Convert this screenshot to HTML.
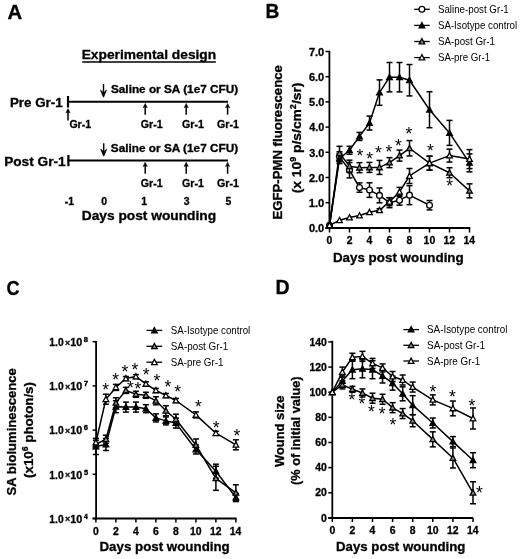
<!DOCTYPE html>
<html><head><meta charset="utf-8"><style>
html,body{margin:0;padding:0;background:#fff;}
svg{display:block;font-family:"Liberation Sans",sans-serif;filter:grayscale(100%);}
</style></head><body>
<svg width="520" height="559" viewBox="0 0 520 559">
<rect width="520" height="559" fill="#fff"/>
<text transform="translate(7.59,18.80) scale(1.0304,1)" font-size="19.7" font-weight="bold" fill="#000" stroke="#000" stroke-width="0.3">A</text>
<text transform="translate(265.51,18.10) scale(0.9736,1)" font-size="19.7" font-weight="bold" fill="#000" stroke="#000" stroke-width="0.3">B</text>
<text transform="translate(6.57,295.20) scale(0.9222,1)" font-size="19.7" font-weight="bold" fill="#000" stroke="#000" stroke-width="0.3">C</text>
<text transform="translate(275.48,294.10) scale(0.9945,1)" font-size="19.7" font-weight="bold" fill="#000" stroke="#000" stroke-width="0.3">D</text>
<text transform="translate(81.67,59.40) scale(1.0583,1)" font-size="13.0" font-weight="bold" fill="#000" stroke="#000" stroke-width="0.3">Experimental design</text>
<line x1="82.30" y1="62.00" x2="215.80" y2="62.00" stroke="#000" stroke-width="1.5" stroke-linecap="butt"/>
<text transform="translate(9.90,106.90) scale(1.0616,1)" font-size="12.6" font-weight="bold" fill="#000" stroke="#000" stroke-width="0.3">Pre Gr-1</text>
<text transform="translate(4.18,165.70) scale(1.0846,1)" font-size="12.6" font-weight="bold" fill="#000" stroke="#000" stroke-width="0.3">Post Gr-1</text>
<line x1="67.70" y1="101.70" x2="228.00" y2="101.70" stroke="#000" stroke-width="2.0" stroke-linecap="butt"/>
<line x1="68.00" y1="96.00" x2="68.00" y2="107.50" stroke="#000" stroke-width="2.2" stroke-linecap="butt"/>
<line x1="67.70" y1="160.50" x2="228.00" y2="160.50" stroke="#000" stroke-width="2.0" stroke-linecap="butt"/>
<line x1="68.40" y1="155.00" x2="68.40" y2="166.20" stroke="#000" stroke-width="2.2" stroke-linecap="butt"/>
<line x1="103.50" y1="84.00" x2="103.50" y2="93.00" stroke="#000" stroke-width="1.4" stroke-linecap="butt"/>
<polygon points="103.50,97.20 100.50,90.20 103.50,92.86 106.50,90.20" fill="#000" stroke="#000" stroke-width="0.8" stroke-linejoin="round"/>
<line x1="103.70" y1="143.30" x2="103.70" y2="152.00" stroke="#000" stroke-width="1.4" stroke-linecap="butt"/>
<polygon points="103.70,156.20 100.70,149.20 103.70,151.86 106.70,149.20" fill="#000" stroke="#000" stroke-width="0.8" stroke-linejoin="round"/>
<text transform="translate(110.95,92.60) scale(1.0912,1)" font-size="10.8" font-weight="bold" fill="#000" stroke="#000" stroke-width="0.3">Saline or SA (1e7 CFU)</text>
<text transform="translate(110.85,151.90) scale(1.0929,1)" font-size="10.8" font-weight="bold" fill="#000" stroke="#000" stroke-width="0.3">Saline or SA (1e7 CFU)</text>
<line x1="68.00" y1="120.40" x2="68.00" y2="111.18" stroke="#000" stroke-width="1.5" stroke-linecap="butt"/>
<polygon points="68.00,108.60 65.90,112.90 68.00,112.04 70.10,112.90" fill="#000" stroke="#000" stroke-width="0.5" stroke-linejoin="round"/>
<line x1="145.20" y1="114.70" x2="145.20" y2="105.98" stroke="#000" stroke-width="1.5" stroke-linecap="butt"/>
<polygon points="145.20,103.40 143.10,107.70 145.20,106.84 147.30,107.70" fill="#000" stroke="#000" stroke-width="0.5" stroke-linejoin="round"/>
<line x1="145.20" y1="173.70" x2="145.20" y2="164.78" stroke="#000" stroke-width="1.5" stroke-linecap="butt"/>
<polygon points="145.20,162.20 143.10,166.50 145.20,165.64 147.30,166.50" fill="#000" stroke="#000" stroke-width="0.5" stroke-linejoin="round"/>
<line x1="186.20" y1="114.70" x2="186.20" y2="105.98" stroke="#000" stroke-width="1.5" stroke-linecap="butt"/>
<polygon points="186.20,103.40 184.10,107.70 186.20,106.84 188.30,107.70" fill="#000" stroke="#000" stroke-width="0.5" stroke-linejoin="round"/>
<line x1="186.20" y1="173.70" x2="186.20" y2="164.78" stroke="#000" stroke-width="1.5" stroke-linecap="butt"/>
<polygon points="186.20,162.20 184.10,166.50 186.20,165.64 188.30,166.50" fill="#000" stroke="#000" stroke-width="0.5" stroke-linejoin="round"/>
<line x1="227.60" y1="114.70" x2="227.60" y2="105.98" stroke="#000" stroke-width="1.5" stroke-linecap="butt"/>
<polygon points="227.60,103.40 225.50,107.70 227.60,106.84 229.70,107.70" fill="#000" stroke="#000" stroke-width="0.5" stroke-linejoin="round"/>
<line x1="227.60" y1="173.70" x2="227.60" y2="164.78" stroke="#000" stroke-width="1.5" stroke-linecap="butt"/>
<polygon points="227.60,162.20 225.50,166.50 227.60,165.64 229.70,166.50" fill="#000" stroke="#000" stroke-width="0.5" stroke-linejoin="round"/>
<text transform="translate(69.38,128.00) scale(0.9783,1)" font-size="10.8" font-weight="bold" fill="#000" stroke="#000" stroke-width="0.3">Gr-1</text>
<text transform="translate(140.77,128.30) scale(0.9877,1)" font-size="10.8" font-weight="bold" fill="#000" stroke="#000" stroke-width="0.3">Gr-1</text>
<text transform="translate(140.77,187.10) scale(0.9877,1)" font-size="10.8" font-weight="bold" fill="#000" stroke="#000" stroke-width="0.3">Gr-1</text>
<text transform="translate(181.97,128.30) scale(0.9877,1)" font-size="10.8" font-weight="bold" fill="#000" stroke="#000" stroke-width="0.3">Gr-1</text>
<text transform="translate(181.97,187.10) scale(0.9877,1)" font-size="10.8" font-weight="bold" fill="#000" stroke="#000" stroke-width="0.3">Gr-1</text>
<text transform="translate(216.97,128.30) scale(0.9877,1)" font-size="10.8" font-weight="bold" fill="#000" stroke="#000" stroke-width="0.3">Gr-1</text>
<text transform="translate(216.97,187.10) scale(0.9877,1)" font-size="10.8" font-weight="bold" fill="#000" stroke="#000" stroke-width="0.3">Gr-1</text>
<text x="64.82" y="204.60" font-size="10.4" font-weight="bold" fill="#000" stroke="#000" stroke-width="0.3">-1</text>
<text x="101.31" y="204.60" font-size="10.4" font-weight="bold" fill="#000" stroke="#000" stroke-width="0.3">0</text>
<text x="141.13" y="204.60" font-size="10.4" font-weight="bold" fill="#000" stroke="#000" stroke-width="0.3">1</text>
<text x="183.78" y="204.60" font-size="10.4" font-weight="bold" fill="#000" stroke="#000" stroke-width="0.3">3</text>
<text x="225.50" y="204.60" font-size="10.4" font-weight="bold" fill="#000" stroke="#000" stroke-width="0.3">5</text>
<text transform="translate(81.77,219.60) scale(1.0911,1)" font-size="12.6" font-weight="bold" fill="#000" stroke="#000" stroke-width="0.3">Days post wounding</text>
<line x1="329.40" y1="50.80" x2="329.40" y2="229.00" stroke="#000" stroke-width="1.8" stroke-linecap="butt"/>
<line x1="325.50" y1="227.90" x2="470.30" y2="227.90" stroke="#000" stroke-width="2.0" stroke-linecap="butt"/>
<line x1="325.50" y1="227.90" x2="329.40" y2="227.90" stroke="#000" stroke-width="1.5" stroke-linecap="butt"/>
<text transform="translate(308.96,232.10) scale(1.0469,1)" font-size="10.5" font-weight="bold" fill="#000" stroke="#000" stroke-width="0.3">0.0</text>
<line x1="325.50" y1="202.70" x2="329.40" y2="202.70" stroke="#000" stroke-width="1.5" stroke-linecap="butt"/>
<text transform="translate(308.70,206.90) scale(1.0652,1)" font-size="10.5" font-weight="bold" fill="#000" stroke="#000" stroke-width="0.3">1.0</text>
<line x1="325.50" y1="177.50" x2="329.40" y2="177.50" stroke="#000" stroke-width="1.5" stroke-linecap="butt"/>
<text transform="translate(309.02,181.70) scale(1.0429,1)" font-size="10.5" font-weight="bold" fill="#000" stroke="#000" stroke-width="0.3">2.0</text>
<line x1="325.50" y1="152.30" x2="329.40" y2="152.30" stroke="#000" stroke-width="1.5" stroke-linecap="butt"/>
<text transform="translate(309.16,156.50) scale(1.0331,1)" font-size="10.5" font-weight="bold" fill="#000" stroke="#000" stroke-width="0.3">3.0</text>
<line x1="325.50" y1="127.10" x2="329.40" y2="127.10" stroke="#000" stroke-width="1.5" stroke-linecap="butt"/>
<text transform="translate(309.24,131.30) scale(1.0273,1)" font-size="10.5" font-weight="bold" fill="#000" stroke="#000" stroke-width="0.3">4.0</text>
<line x1="325.50" y1="101.90" x2="329.40" y2="101.90" stroke="#000" stroke-width="1.5" stroke-linecap="butt"/>
<text transform="translate(309.07,106.10) scale(1.0390,1)" font-size="10.5" font-weight="bold" fill="#000" stroke="#000" stroke-width="0.3">5.0</text>
<line x1="325.50" y1="76.70" x2="329.40" y2="76.70" stroke="#000" stroke-width="1.5" stroke-linecap="butt"/>
<text transform="translate(308.99,80.90) scale(1.0449,1)" font-size="10.5" font-weight="bold" fill="#000" stroke="#000" stroke-width="0.3">6.0</text>
<line x1="325.50" y1="51.50" x2="329.40" y2="51.50" stroke="#000" stroke-width="1.5" stroke-linecap="butt"/>
<text transform="translate(308.93,55.70) scale(1.0489,1)" font-size="10.5" font-weight="bold" fill="#000" stroke="#000" stroke-width="0.3">7.0</text>
<line x1="329.50" y1="227.90" x2="329.50" y2="232.50" stroke="#000" stroke-width="1.5" stroke-linecap="butt"/>
<text x="326.61" y="244.40" font-size="10.4" font-weight="bold" fill="#000" stroke="#000" stroke-width="0.3">0</text>
<line x1="349.50" y1="227.90" x2="349.50" y2="232.50" stroke="#000" stroke-width="1.5" stroke-linecap="butt"/>
<text x="346.63" y="244.40" font-size="10.4" font-weight="bold" fill="#000" stroke="#000" stroke-width="0.3">2</text>
<line x1="369.50" y1="227.90" x2="369.50" y2="232.50" stroke="#000" stroke-width="1.5" stroke-linecap="butt"/>
<text x="366.56" y="244.40" font-size="10.4" font-weight="bold" fill="#000" stroke="#000" stroke-width="0.3">4</text>
<line x1="389.50" y1="227.90" x2="389.50" y2="232.50" stroke="#000" stroke-width="1.5" stroke-linecap="butt"/>
<text x="386.60" y="244.40" font-size="10.4" font-weight="bold" fill="#000" stroke="#000" stroke-width="0.3">6</text>
<line x1="409.50" y1="227.90" x2="409.50" y2="232.50" stroke="#000" stroke-width="1.5" stroke-linecap="butt"/>
<text x="406.60" y="244.40" font-size="10.4" font-weight="bold" fill="#000" stroke="#000" stroke-width="0.3">8</text>
<line x1="429.50" y1="227.90" x2="429.50" y2="232.50" stroke="#000" stroke-width="1.5" stroke-linecap="butt"/>
<text x="423.61" y="244.40" font-size="10.4" font-weight="bold" fill="#000" stroke="#000" stroke-width="0.3">10</text>
<line x1="449.50" y1="227.90" x2="449.50" y2="232.50" stroke="#000" stroke-width="1.5" stroke-linecap="butt"/>
<text x="443.60" y="244.40" font-size="10.4" font-weight="bold" fill="#000" stroke="#000" stroke-width="0.3">12</text>
<line x1="469.50" y1="227.90" x2="469.50" y2="232.50" stroke="#000" stroke-width="1.5" stroke-linecap="butt"/>
<text x="463.43" y="244.40" font-size="10.4" font-weight="bold" fill="#000" stroke="#000" stroke-width="0.3">14</text>
<text transform="translate(332.90,261.70) scale(0.9778,1)" font-size="13.7" font-weight="bold" fill="#000" stroke="#000" stroke-width="0.3">Days post wounding</text>
<text transform="translate(282.30,218.60) rotate(-90) scale(0.9982,1) translate(-0.89,0)" font-size="13.2" font-weight="bold" stroke="#000" stroke-width="0.3"><tspan font-size="13.2" dy="0">EGFP-PMN fluorescence</tspan></text>
<text transform="translate(301.20,192.60) rotate(-90) scale(1.0642,1) translate(-0.65,0)" font-size="13.0" font-weight="bold" stroke="#000" stroke-width="0.3"><tspan font-size="13.0" dy="0">(x 10</tspan><tspan font-size="8.5" dy="-5">9</tspan><tspan font-size="13.0" dy="5"> p/s/cm</tspan><tspan font-size="8.5" dy="-5">2</tspan><tspan font-size="13.0" dy="5">/sr)</tspan></text>
<polyline points="329.50,225.38 339.50,156.84 349.50,170.19 359.50,187.58 369.50,190.10 379.50,195.39 389.50,202.70 399.50,200.18 409.50,195.14 429.50,205.22" fill="none" stroke="#000" stroke-width="1.5" stroke-linejoin="round"/>
<line x1="339.50" y1="151.84" x2="339.50" y2="161.84" stroke="#000" stroke-width="1.5" stroke-linecap="butt"/>
<line x1="336.50" y1="151.84" x2="342.50" y2="151.84" stroke="#000" stroke-width="1.5" stroke-linecap="butt"/>
<line x1="336.50" y1="161.84" x2="342.50" y2="161.84" stroke="#000" stroke-width="1.5" stroke-linecap="butt"/>
<line x1="349.50" y1="162.49" x2="349.50" y2="177.89" stroke="#000" stroke-width="1.5" stroke-linecap="butt"/>
<line x1="346.50" y1="162.49" x2="352.50" y2="162.49" stroke="#000" stroke-width="1.5" stroke-linecap="butt"/>
<line x1="346.50" y1="177.89" x2="352.50" y2="177.89" stroke="#000" stroke-width="1.5" stroke-linecap="butt"/>
<line x1="359.50" y1="182.88" x2="359.50" y2="192.28" stroke="#000" stroke-width="1.5" stroke-linecap="butt"/>
<line x1="356.50" y1="182.88" x2="362.50" y2="182.88" stroke="#000" stroke-width="1.5" stroke-linecap="butt"/>
<line x1="356.50" y1="192.28" x2="362.50" y2="192.28" stroke="#000" stroke-width="1.5" stroke-linecap="butt"/>
<line x1="369.50" y1="182.80" x2="369.50" y2="197.40" stroke="#000" stroke-width="1.5" stroke-linecap="butt"/>
<line x1="366.50" y1="182.80" x2="372.50" y2="182.80" stroke="#000" stroke-width="1.5" stroke-linecap="butt"/>
<line x1="366.50" y1="197.40" x2="372.50" y2="197.40" stroke="#000" stroke-width="1.5" stroke-linecap="butt"/>
<line x1="379.50" y1="187.99" x2="379.50" y2="202.79" stroke="#000" stroke-width="1.5" stroke-linecap="butt"/>
<line x1="376.50" y1="187.99" x2="382.50" y2="187.99" stroke="#000" stroke-width="1.5" stroke-linecap="butt"/>
<line x1="376.50" y1="202.79" x2="382.50" y2="202.79" stroke="#000" stroke-width="1.5" stroke-linecap="butt"/>
<line x1="389.50" y1="197.70" x2="389.50" y2="207.70" stroke="#000" stroke-width="1.5" stroke-linecap="butt"/>
<line x1="386.50" y1="197.70" x2="392.50" y2="197.70" stroke="#000" stroke-width="1.5" stroke-linecap="butt"/>
<line x1="386.50" y1="207.70" x2="392.50" y2="207.70" stroke="#000" stroke-width="1.5" stroke-linecap="butt"/>
<line x1="399.50" y1="195.18" x2="399.50" y2="205.18" stroke="#000" stroke-width="1.5" stroke-linecap="butt"/>
<line x1="396.50" y1="195.18" x2="402.50" y2="195.18" stroke="#000" stroke-width="1.5" stroke-linecap="butt"/>
<line x1="396.50" y1="205.18" x2="402.50" y2="205.18" stroke="#000" stroke-width="1.5" stroke-linecap="butt"/>
<line x1="409.50" y1="185.64" x2="409.50" y2="204.64" stroke="#000" stroke-width="1.5" stroke-linecap="butt"/>
<line x1="406.50" y1="185.64" x2="412.50" y2="185.64" stroke="#000" stroke-width="1.5" stroke-linecap="butt"/>
<line x1="406.50" y1="204.64" x2="412.50" y2="204.64" stroke="#000" stroke-width="1.5" stroke-linecap="butt"/>
<line x1="429.50" y1="200.52" x2="429.50" y2="209.92" stroke="#000" stroke-width="1.5" stroke-linecap="butt"/>
<line x1="426.50" y1="200.52" x2="432.50" y2="200.52" stroke="#000" stroke-width="1.5" stroke-linecap="butt"/>
<line x1="426.50" y1="209.92" x2="432.50" y2="209.92" stroke="#000" stroke-width="1.5" stroke-linecap="butt"/>
<circle cx="329.50" cy="225.38" r="2.90" fill="#fff" stroke="#000" stroke-width="1.30"/>
<circle cx="339.50" cy="156.84" r="2.90" fill="#fff" stroke="#000" stroke-width="1.30"/>
<circle cx="349.50" cy="170.19" r="2.90" fill="#fff" stroke="#000" stroke-width="1.30"/>
<circle cx="359.50" cy="187.58" r="2.90" fill="#fff" stroke="#000" stroke-width="1.30"/>
<circle cx="369.50" cy="190.10" r="2.90" fill="#fff" stroke="#000" stroke-width="1.30"/>
<circle cx="379.50" cy="195.39" r="2.90" fill="#fff" stroke="#000" stroke-width="1.30"/>
<circle cx="389.50" cy="202.70" r="2.90" fill="#fff" stroke="#000" stroke-width="1.30"/>
<circle cx="399.50" cy="200.18" r="2.90" fill="#fff" stroke="#000" stroke-width="1.30"/>
<circle cx="409.50" cy="195.14" r="2.90" fill="#fff" stroke="#000" stroke-width="1.30"/>
<circle cx="429.50" cy="205.22" r="2.90" fill="#fff" stroke="#000" stroke-width="1.30"/>
<polyline points="329.50,225.38 339.50,158.60 349.50,150.28 359.50,136.42 369.50,123.07 379.50,92.58 389.50,77.20 399.50,77.20 409.50,80.23 429.50,109.71 449.50,132.90 469.50,162.88" fill="none" stroke="#000" stroke-width="1.5" stroke-linejoin="round"/>
<line x1="339.50" y1="153.60" x2="339.50" y2="163.60" stroke="#000" stroke-width="1.5" stroke-linecap="butt"/>
<line x1="336.50" y1="153.60" x2="342.50" y2="153.60" stroke="#000" stroke-width="1.5" stroke-linecap="butt"/>
<line x1="336.50" y1="163.60" x2="342.50" y2="163.60" stroke="#000" stroke-width="1.5" stroke-linecap="butt"/>
<line x1="349.50" y1="146.28" x2="349.50" y2="154.28" stroke="#000" stroke-width="1.5" stroke-linecap="butt"/>
<line x1="346.50" y1="146.28" x2="352.50" y2="146.28" stroke="#000" stroke-width="1.5" stroke-linecap="butt"/>
<line x1="346.50" y1="154.28" x2="352.50" y2="154.28" stroke="#000" stroke-width="1.5" stroke-linecap="butt"/>
<line x1="359.50" y1="132.42" x2="359.50" y2="140.42" stroke="#000" stroke-width="1.5" stroke-linecap="butt"/>
<line x1="356.50" y1="132.42" x2="362.50" y2="132.42" stroke="#000" stroke-width="1.5" stroke-linecap="butt"/>
<line x1="356.50" y1="140.42" x2="362.50" y2="140.42" stroke="#000" stroke-width="1.5" stroke-linecap="butt"/>
<line x1="369.50" y1="116.07" x2="369.50" y2="130.07" stroke="#000" stroke-width="1.5" stroke-linecap="butt"/>
<line x1="366.50" y1="116.07" x2="372.50" y2="116.07" stroke="#000" stroke-width="1.5" stroke-linecap="butt"/>
<line x1="366.50" y1="130.07" x2="372.50" y2="130.07" stroke="#000" stroke-width="1.5" stroke-linecap="butt"/>
<line x1="379.50" y1="79.88" x2="379.50" y2="105.28" stroke="#000" stroke-width="1.5" stroke-linecap="butt"/>
<line x1="376.50" y1="79.88" x2="382.50" y2="79.88" stroke="#000" stroke-width="1.5" stroke-linecap="butt"/>
<line x1="376.50" y1="105.28" x2="382.50" y2="105.28" stroke="#000" stroke-width="1.5" stroke-linecap="butt"/>
<line x1="389.50" y1="62.50" x2="389.50" y2="91.90" stroke="#000" stroke-width="1.5" stroke-linecap="butt"/>
<line x1="386.50" y1="62.50" x2="392.50" y2="62.50" stroke="#000" stroke-width="1.5" stroke-linecap="butt"/>
<line x1="386.50" y1="91.90" x2="392.50" y2="91.90" stroke="#000" stroke-width="1.5" stroke-linecap="butt"/>
<line x1="399.50" y1="62.50" x2="399.50" y2="91.90" stroke="#000" stroke-width="1.5" stroke-linecap="butt"/>
<line x1="396.50" y1="62.50" x2="402.50" y2="62.50" stroke="#000" stroke-width="1.5" stroke-linecap="butt"/>
<line x1="396.50" y1="91.90" x2="402.50" y2="91.90" stroke="#000" stroke-width="1.5" stroke-linecap="butt"/>
<line x1="409.50" y1="64.53" x2="409.50" y2="95.93" stroke="#000" stroke-width="1.5" stroke-linecap="butt"/>
<line x1="406.50" y1="64.53" x2="412.50" y2="64.53" stroke="#000" stroke-width="1.5" stroke-linecap="butt"/>
<line x1="406.50" y1="95.93" x2="412.50" y2="95.93" stroke="#000" stroke-width="1.5" stroke-linecap="butt"/>
<line x1="429.50" y1="91.71" x2="429.50" y2="127.71" stroke="#000" stroke-width="1.5" stroke-linecap="butt"/>
<line x1="426.50" y1="91.71" x2="432.50" y2="91.71" stroke="#000" stroke-width="1.5" stroke-linecap="butt"/>
<line x1="426.50" y1="127.71" x2="432.50" y2="127.71" stroke="#000" stroke-width="1.5" stroke-linecap="butt"/>
<line x1="449.50" y1="120.40" x2="449.50" y2="145.40" stroke="#000" stroke-width="1.5" stroke-linecap="butt"/>
<line x1="446.50" y1="120.40" x2="452.50" y2="120.40" stroke="#000" stroke-width="1.5" stroke-linecap="butt"/>
<line x1="446.50" y1="145.40" x2="452.50" y2="145.40" stroke="#000" stroke-width="1.5" stroke-linecap="butt"/>
<line x1="469.50" y1="153.88" x2="469.50" y2="171.88" stroke="#000" stroke-width="1.5" stroke-linecap="butt"/>
<line x1="466.50" y1="153.88" x2="472.50" y2="153.88" stroke="#000" stroke-width="1.5" stroke-linecap="butt"/>
<line x1="466.50" y1="171.88" x2="472.50" y2="171.88" stroke="#000" stroke-width="1.5" stroke-linecap="butt"/>
<polygon points="329.50,222.52 326.70,227.72 332.30,227.72" fill="#000" stroke="#000" stroke-width="1.30" stroke-linejoin="miter"/>
<polygon points="339.50,155.74 336.70,160.94 342.30,160.94" fill="#000" stroke="#000" stroke-width="1.30" stroke-linejoin="miter"/>
<polygon points="349.50,147.42 346.70,152.62 352.30,152.62" fill="#000" stroke="#000" stroke-width="1.30" stroke-linejoin="miter"/>
<polygon points="359.50,133.56 356.70,138.76 362.30,138.76" fill="#000" stroke="#000" stroke-width="1.30" stroke-linejoin="miter"/>
<polygon points="369.50,120.21 366.70,125.41 372.30,125.41" fill="#000" stroke="#000" stroke-width="1.30" stroke-linejoin="miter"/>
<polygon points="379.50,89.72 376.70,94.92 382.30,94.92" fill="#000" stroke="#000" stroke-width="1.30" stroke-linejoin="miter"/>
<polygon points="389.50,74.34 386.70,79.54 392.30,79.54" fill="#000" stroke="#000" stroke-width="1.30" stroke-linejoin="miter"/>
<polygon points="399.50,74.34 396.70,79.54 402.30,79.54" fill="#000" stroke="#000" stroke-width="1.30" stroke-linejoin="miter"/>
<polygon points="409.50,77.37 406.70,82.57 412.30,82.57" fill="#000" stroke="#000" stroke-width="1.30" stroke-linejoin="miter"/>
<polygon points="429.50,106.85 426.70,112.05 432.30,112.05" fill="#000" stroke="#000" stroke-width="1.30" stroke-linejoin="miter"/>
<polygon points="449.50,130.04 446.70,135.24 452.30,135.24" fill="#000" stroke="#000" stroke-width="1.30" stroke-linejoin="miter"/>
<polygon points="469.50,160.02 466.70,165.22 472.30,165.22" fill="#000" stroke="#000" stroke-width="1.30" stroke-linejoin="miter"/>
<polyline points="329.50,225.38 339.50,153.31 349.50,166.16 359.50,167.67 369.50,167.42 379.50,167.42 389.50,162.63 399.50,155.58 409.50,148.27 429.50,163.14 449.50,172.71 469.50,190.86" fill="none" stroke="#000" stroke-width="1.5" stroke-linejoin="round"/>
<line x1="339.50" y1="146.31" x2="339.50" y2="160.31" stroke="#000" stroke-width="1.5" stroke-linecap="butt"/>
<line x1="336.50" y1="146.31" x2="342.50" y2="146.31" stroke="#000" stroke-width="1.5" stroke-linecap="butt"/>
<line x1="336.50" y1="160.31" x2="342.50" y2="160.31" stroke="#000" stroke-width="1.5" stroke-linecap="butt"/>
<line x1="349.50" y1="160.16" x2="349.50" y2="172.16" stroke="#000" stroke-width="1.5" stroke-linecap="butt"/>
<line x1="346.50" y1="160.16" x2="352.50" y2="160.16" stroke="#000" stroke-width="1.5" stroke-linecap="butt"/>
<line x1="346.50" y1="172.16" x2="352.50" y2="172.16" stroke="#000" stroke-width="1.5" stroke-linecap="butt"/>
<line x1="359.50" y1="162.67" x2="359.50" y2="172.67" stroke="#000" stroke-width="1.5" stroke-linecap="butt"/>
<line x1="356.50" y1="162.67" x2="362.50" y2="162.67" stroke="#000" stroke-width="1.5" stroke-linecap="butt"/>
<line x1="356.50" y1="172.67" x2="362.50" y2="172.67" stroke="#000" stroke-width="1.5" stroke-linecap="butt"/>
<line x1="369.50" y1="162.42" x2="369.50" y2="172.42" stroke="#000" stroke-width="1.5" stroke-linecap="butt"/>
<line x1="366.50" y1="162.42" x2="372.50" y2="162.42" stroke="#000" stroke-width="1.5" stroke-linecap="butt"/>
<line x1="366.50" y1="172.42" x2="372.50" y2="172.42" stroke="#000" stroke-width="1.5" stroke-linecap="butt"/>
<line x1="379.50" y1="160.42" x2="379.50" y2="174.42" stroke="#000" stroke-width="1.5" stroke-linecap="butt"/>
<line x1="376.50" y1="160.42" x2="382.50" y2="160.42" stroke="#000" stroke-width="1.5" stroke-linecap="butt"/>
<line x1="376.50" y1="174.42" x2="382.50" y2="174.42" stroke="#000" stroke-width="1.5" stroke-linecap="butt"/>
<line x1="389.50" y1="157.63" x2="389.50" y2="167.63" stroke="#000" stroke-width="1.5" stroke-linecap="butt"/>
<line x1="386.50" y1="157.63" x2="392.50" y2="157.63" stroke="#000" stroke-width="1.5" stroke-linecap="butt"/>
<line x1="386.50" y1="167.63" x2="392.50" y2="167.63" stroke="#000" stroke-width="1.5" stroke-linecap="butt"/>
<line x1="399.50" y1="150.08" x2="399.50" y2="161.08" stroke="#000" stroke-width="1.5" stroke-linecap="butt"/>
<line x1="396.50" y1="150.08" x2="402.50" y2="150.08" stroke="#000" stroke-width="1.5" stroke-linecap="butt"/>
<line x1="396.50" y1="161.08" x2="402.50" y2="161.08" stroke="#000" stroke-width="1.5" stroke-linecap="butt"/>
<line x1="409.50" y1="140.57" x2="409.50" y2="155.97" stroke="#000" stroke-width="1.5" stroke-linecap="butt"/>
<line x1="406.50" y1="140.57" x2="412.50" y2="140.57" stroke="#000" stroke-width="1.5" stroke-linecap="butt"/>
<line x1="406.50" y1="155.97" x2="412.50" y2="155.97" stroke="#000" stroke-width="1.5" stroke-linecap="butt"/>
<line x1="429.50" y1="156.14" x2="429.50" y2="170.14" stroke="#000" stroke-width="1.5" stroke-linecap="butt"/>
<line x1="426.50" y1="156.14" x2="432.50" y2="156.14" stroke="#000" stroke-width="1.5" stroke-linecap="butt"/>
<line x1="426.50" y1="170.14" x2="432.50" y2="170.14" stroke="#000" stroke-width="1.5" stroke-linecap="butt"/>
<line x1="449.50" y1="167.71" x2="449.50" y2="177.71" stroke="#000" stroke-width="1.5" stroke-linecap="butt"/>
<line x1="446.50" y1="167.71" x2="452.50" y2="167.71" stroke="#000" stroke-width="1.5" stroke-linecap="butt"/>
<line x1="446.50" y1="177.71" x2="452.50" y2="177.71" stroke="#000" stroke-width="1.5" stroke-linecap="butt"/>
<line x1="469.50" y1="183.86" x2="469.50" y2="197.86" stroke="#000" stroke-width="1.5" stroke-linecap="butt"/>
<line x1="466.50" y1="183.86" x2="472.50" y2="183.86" stroke="#000" stroke-width="1.5" stroke-linecap="butt"/>
<line x1="466.50" y1="197.86" x2="472.50" y2="197.86" stroke="#000" stroke-width="1.5" stroke-linecap="butt"/>
<polygon points="329.50,222.52 326.70,227.72 332.30,227.72" fill="#8a8a8a" stroke="#000" stroke-width="1.30" stroke-linejoin="miter"/>
<polygon points="339.50,150.45 336.70,155.65 342.30,155.65" fill="#8a8a8a" stroke="#000" stroke-width="1.30" stroke-linejoin="miter"/>
<polygon points="349.50,163.30 346.70,168.50 352.30,168.50" fill="#8a8a8a" stroke="#000" stroke-width="1.30" stroke-linejoin="miter"/>
<polygon points="359.50,164.81 356.70,170.01 362.30,170.01" fill="#8a8a8a" stroke="#000" stroke-width="1.30" stroke-linejoin="miter"/>
<polygon points="369.50,164.56 366.70,169.76 372.30,169.76" fill="#8a8a8a" stroke="#000" stroke-width="1.30" stroke-linejoin="miter"/>
<polygon points="379.50,164.56 376.70,169.76 382.30,169.76" fill="#8a8a8a" stroke="#000" stroke-width="1.30" stroke-linejoin="miter"/>
<polygon points="389.50,159.77 386.70,164.97 392.30,164.97" fill="#8a8a8a" stroke="#000" stroke-width="1.30" stroke-linejoin="miter"/>
<polygon points="399.50,152.72 396.70,157.92 402.30,157.92" fill="#8a8a8a" stroke="#000" stroke-width="1.30" stroke-linejoin="miter"/>
<polygon points="409.50,145.41 406.70,150.61 412.30,150.61" fill="#8a8a8a" stroke="#000" stroke-width="1.30" stroke-linejoin="miter"/>
<polygon points="429.50,160.28 426.70,165.48 432.30,165.48" fill="#8a8a8a" stroke="#000" stroke-width="1.30" stroke-linejoin="miter"/>
<polygon points="449.50,169.85 446.70,175.05 452.30,175.05" fill="#8a8a8a" stroke="#000" stroke-width="1.30" stroke-linejoin="miter"/>
<polygon points="469.50,188.00 466.70,193.20 472.30,193.20" fill="#8a8a8a" stroke="#000" stroke-width="1.30" stroke-linejoin="miter"/>
<polyline points="329.50,225.38 339.50,220.34 349.50,217.57 359.50,215.55 369.50,212.28 379.50,210.26 389.50,201.69 399.50,191.86 409.50,175.99 429.50,163.14 449.50,155.58 469.50,159.10" fill="none" stroke="#000" stroke-width="1.5" stroke-linejoin="round"/>
<line x1="379.50" y1="208.76" x2="379.50" y2="211.76" stroke="#000" stroke-width="1.5" stroke-linecap="butt"/>
<line x1="376.50" y1="208.76" x2="382.50" y2="208.76" stroke="#000" stroke-width="1.5" stroke-linecap="butt"/>
<line x1="376.50" y1="211.76" x2="382.50" y2="211.76" stroke="#000" stroke-width="1.5" stroke-linecap="butt"/>
<line x1="389.50" y1="197.69" x2="389.50" y2="205.69" stroke="#000" stroke-width="1.5" stroke-linecap="butt"/>
<line x1="386.50" y1="197.69" x2="392.50" y2="197.69" stroke="#000" stroke-width="1.5" stroke-linecap="butt"/>
<line x1="386.50" y1="205.69" x2="392.50" y2="205.69" stroke="#000" stroke-width="1.5" stroke-linecap="butt"/>
<line x1="399.50" y1="187.36" x2="399.50" y2="196.36" stroke="#000" stroke-width="1.5" stroke-linecap="butt"/>
<line x1="396.50" y1="187.36" x2="402.50" y2="187.36" stroke="#000" stroke-width="1.5" stroke-linecap="butt"/>
<line x1="396.50" y1="196.36" x2="402.50" y2="196.36" stroke="#000" stroke-width="1.5" stroke-linecap="butt"/>
<line x1="409.50" y1="168.49" x2="409.50" y2="183.49" stroke="#000" stroke-width="1.5" stroke-linecap="butt"/>
<line x1="406.50" y1="168.49" x2="412.50" y2="168.49" stroke="#000" stroke-width="1.5" stroke-linecap="butt"/>
<line x1="406.50" y1="183.49" x2="412.50" y2="183.49" stroke="#000" stroke-width="1.5" stroke-linecap="butt"/>
<line x1="429.50" y1="156.14" x2="429.50" y2="170.14" stroke="#000" stroke-width="1.5" stroke-linecap="butt"/>
<line x1="426.50" y1="156.14" x2="432.50" y2="156.14" stroke="#000" stroke-width="1.5" stroke-linecap="butt"/>
<line x1="426.50" y1="170.14" x2="432.50" y2="170.14" stroke="#000" stroke-width="1.5" stroke-linecap="butt"/>
<line x1="449.50" y1="149.08" x2="449.50" y2="162.08" stroke="#000" stroke-width="1.5" stroke-linecap="butt"/>
<line x1="446.50" y1="149.08" x2="452.50" y2="149.08" stroke="#000" stroke-width="1.5" stroke-linecap="butt"/>
<line x1="446.50" y1="162.08" x2="452.50" y2="162.08" stroke="#000" stroke-width="1.5" stroke-linecap="butt"/>
<line x1="469.50" y1="149.60" x2="469.50" y2="168.60" stroke="#000" stroke-width="1.5" stroke-linecap="butt"/>
<line x1="466.50" y1="149.60" x2="472.50" y2="149.60" stroke="#000" stroke-width="1.5" stroke-linecap="butt"/>
<line x1="466.50" y1="168.60" x2="472.50" y2="168.60" stroke="#000" stroke-width="1.5" stroke-linecap="butt"/>
<polygon points="329.50,222.52 326.70,227.72 332.30,227.72" fill="#fff" stroke="#000" stroke-width="1.30" stroke-linejoin="miter"/>
<polygon points="339.50,217.48 336.70,222.68 342.30,222.68" fill="#fff" stroke="#000" stroke-width="1.30" stroke-linejoin="miter"/>
<polygon points="349.50,214.71 346.70,219.91 352.30,219.91" fill="#fff" stroke="#000" stroke-width="1.30" stroke-linejoin="miter"/>
<polygon points="359.50,212.69 356.70,217.89 362.30,217.89" fill="#fff" stroke="#000" stroke-width="1.30" stroke-linejoin="miter"/>
<polygon points="369.50,209.42 366.70,214.62 372.30,214.62" fill="#fff" stroke="#000" stroke-width="1.30" stroke-linejoin="miter"/>
<polygon points="379.50,207.40 376.70,212.60 382.30,212.60" fill="#fff" stroke="#000" stroke-width="1.30" stroke-linejoin="miter"/>
<polygon points="389.50,198.83 386.70,204.03 392.30,204.03" fill="#fff" stroke="#000" stroke-width="1.30" stroke-linejoin="miter"/>
<polygon points="399.50,189.00 396.70,194.20 402.30,194.20" fill="#fff" stroke="#000" stroke-width="1.30" stroke-linejoin="miter"/>
<polygon points="409.50,173.13 406.70,178.33 412.30,178.33" fill="#fff" stroke="#000" stroke-width="1.30" stroke-linejoin="miter"/>
<polygon points="429.50,160.28 426.70,165.48 432.30,165.48" fill="#fff" stroke="#000" stroke-width="1.30" stroke-linejoin="miter"/>
<polygon points="449.50,152.72 446.70,157.92 452.30,157.92" fill="#fff" stroke="#000" stroke-width="1.30" stroke-linejoin="miter"/>
<polygon points="469.50,156.24 466.70,161.44 472.30,161.44" fill="#fff" stroke="#000" stroke-width="1.30" stroke-linejoin="miter"/>
<text x="356.50" y="162.48" font-size="17.5" font-weight="normal">*</text>
<text x="366.21" y="164.98" font-size="17.5" font-weight="normal">*</text>
<text x="375.00" y="159.28" font-size="17.5" font-weight="normal">*</text>
<text x="385.61" y="157.78" font-size="17.5" font-weight="normal">*</text>
<text x="395.11" y="152.48" font-size="17.5" font-weight="normal">*</text>
<text x="405.61" y="139.78" font-size="17.5" font-weight="normal">*</text>
<text x="427.00" y="156.58" font-size="17.5" font-weight="normal">*</text>
<text x="446.21" y="192.38" font-size="17.5" font-weight="normal">*</text>
<line x1="414.20" y1="9.30" x2="429.80" y2="9.30" stroke="#000" stroke-width="1.3" stroke-linecap="butt"/>
<circle cx="421.90" cy="9.30" r="2.90" fill="#fff" stroke="#000" stroke-width="1.30"/>
<text transform="translate(437.96,12.80) scale(0.9365,1)" font-size="10.4" font-weight="normal" fill="#000">Saline-post Gr-1</text>
<line x1="414.20" y1="25.40" x2="429.80" y2="25.40" stroke="#000" stroke-width="1.3" stroke-linecap="butt"/>
<polygon points="421.90,22.54 419.10,27.74 424.70,27.74" fill="#000" stroke="#000" stroke-width="1.30" stroke-linejoin="miter"/>
<text transform="translate(437.96,29.20) scale(0.9332,1)" font-size="10.4" font-weight="normal" fill="#000">SA-Isotype control</text>
<line x1="414.20" y1="41.50" x2="429.80" y2="41.50" stroke="#000" stroke-width="1.3" stroke-linecap="butt"/>
<polygon points="421.90,38.64 419.10,43.84 424.70,43.84" fill="#8a8a8a" stroke="#000" stroke-width="1.30" stroke-linejoin="miter"/>
<text transform="translate(437.96,44.90) scale(0.9410,1)" font-size="10.4" font-weight="normal" fill="#000">SA-post Gr-1</text>
<line x1="414.20" y1="57.60" x2="429.80" y2="57.60" stroke="#000" stroke-width="1.3" stroke-linecap="butt"/>
<polygon points="421.90,54.74 419.10,59.94 424.70,59.94" fill="#fff" stroke="#000" stroke-width="1.30" stroke-linejoin="miter"/>
<text transform="translate(437.96,60.90) scale(0.9330,1)" font-size="10.4" font-weight="normal" fill="#000">SA-pre Gr-1</text>
<line x1="96.10" y1="341.00" x2="96.10" y2="519.50" stroke="#000" stroke-width="1.8" stroke-linecap="butt"/>
<line x1="92.60" y1="518.60" x2="236.60" y2="518.60" stroke="#000" stroke-width="2.0" stroke-linecap="butt"/>
<line x1="92.60" y1="518.50" x2="96.10" y2="518.50" stroke="#000" stroke-width="1.5" stroke-linecap="butt"/>
<text transform="translate(49.36,522.80) scale(0.9954,1)" font-size="10.3" font-weight="bold" fill="#000" stroke="#000" stroke-width="0.3">1.0</text>
<text transform="translate(65.03,522.40) scale(0.9263,1)" font-size="9.5" font-weight="bold" fill="#000" stroke="#000" stroke-width="0.3">×</text>
<text transform="translate(70.32,522.80) scale(1.0504,1)" font-size="10.3" font-weight="bold" fill="#000" stroke="#000" stroke-width="0.3">10</text>
<text transform="translate(84.00,518.80) scale(1.0806,1)" font-size="6.4" font-weight="bold" fill="#000" stroke="#000" stroke-width="0.3">4</text>
<line x1="92.60" y1="474.30" x2="96.10" y2="474.30" stroke="#000" stroke-width="1.5" stroke-linecap="butt"/>
<text transform="translate(49.36,478.60) scale(0.9954,1)" font-size="10.3" font-weight="bold" fill="#000" stroke="#000" stroke-width="0.3">1.0</text>
<text transform="translate(65.03,478.20) scale(0.9263,1)" font-size="9.5" font-weight="bold" fill="#000" stroke="#000" stroke-width="0.3">×</text>
<text transform="translate(70.32,478.60) scale(1.0504,1)" font-size="10.3" font-weight="bold" fill="#000" stroke="#000" stroke-width="0.3">10</text>
<text transform="translate(83.88,474.60) scale(1.1621,1)" font-size="6.4" font-weight="bold" fill="#000" stroke="#000" stroke-width="0.3">5</text>
<line x1="92.60" y1="430.10" x2="96.10" y2="430.10" stroke="#000" stroke-width="1.5" stroke-linecap="butt"/>
<text transform="translate(49.36,434.40) scale(0.9954,1)" font-size="10.3" font-weight="bold" fill="#000" stroke="#000" stroke-width="0.3">1.0</text>
<text transform="translate(65.03,434.00) scale(0.9263,1)" font-size="9.5" font-weight="bold" fill="#000" stroke="#000" stroke-width="0.3">×</text>
<text transform="translate(70.32,434.40) scale(1.0504,1)" font-size="10.3" font-weight="bold" fill="#000" stroke="#000" stroke-width="0.3">10</text>
<text transform="translate(83.81,430.40) scale(1.1982,1)" font-size="6.4" font-weight="bold" fill="#000" stroke="#000" stroke-width="0.3">6</text>
<line x1="92.60" y1="385.90" x2="96.10" y2="385.90" stroke="#000" stroke-width="1.5" stroke-linecap="butt"/>
<text transform="translate(49.36,390.20) scale(0.9954,1)" font-size="10.3" font-weight="bold" fill="#000" stroke="#000" stroke-width="0.3">1.0</text>
<text transform="translate(65.03,389.80) scale(0.9263,1)" font-size="9.5" font-weight="bold" fill="#000" stroke="#000" stroke-width="0.3">×</text>
<text transform="translate(70.32,390.20) scale(1.0504,1)" font-size="10.3" font-weight="bold" fill="#000" stroke="#000" stroke-width="0.3">10</text>
<text transform="translate(83.77,386.20) scale(1.2301,1)" font-size="6.4" font-weight="bold" fill="#000" stroke="#000" stroke-width="0.3">7</text>
<line x1="92.60" y1="341.70" x2="96.10" y2="341.70" stroke="#000" stroke-width="1.5" stroke-linecap="butt"/>
<text transform="translate(49.36,346.00) scale(0.9954,1)" font-size="10.3" font-weight="bold" fill="#000" stroke="#000" stroke-width="0.3">1.0</text>
<text transform="translate(65.03,345.60) scale(0.9263,1)" font-size="9.5" font-weight="bold" fill="#000" stroke="#000" stroke-width="0.3">×</text>
<text transform="translate(70.32,346.00) scale(1.0504,1)" font-size="10.3" font-weight="bold" fill="#000" stroke="#000" stroke-width="0.3">10</text>
<text transform="translate(83.86,342.00) scale(1.1739,1)" font-size="6.4" font-weight="bold" fill="#000" stroke="#000" stroke-width="0.3">8</text>
<line x1="95.90" y1="518.60" x2="95.90" y2="522.60" stroke="#000" stroke-width="1.5" stroke-linecap="butt"/>
<text x="93.01" y="534.90" font-size="10.4" font-weight="bold" fill="#000" stroke="#000" stroke-width="0.3">0</text>
<line x1="115.90" y1="518.60" x2="115.90" y2="522.60" stroke="#000" stroke-width="1.5" stroke-linecap="butt"/>
<text x="113.03" y="534.90" font-size="10.4" font-weight="bold" fill="#000" stroke="#000" stroke-width="0.3">2</text>
<line x1="135.90" y1="518.60" x2="135.90" y2="522.60" stroke="#000" stroke-width="1.5" stroke-linecap="butt"/>
<text x="132.96" y="534.90" font-size="10.4" font-weight="bold" fill="#000" stroke="#000" stroke-width="0.3">4</text>
<line x1="155.90" y1="518.60" x2="155.90" y2="522.60" stroke="#000" stroke-width="1.5" stroke-linecap="butt"/>
<text x="153.00" y="534.90" font-size="10.4" font-weight="bold" fill="#000" stroke="#000" stroke-width="0.3">6</text>
<line x1="175.90" y1="518.60" x2="175.90" y2="522.60" stroke="#000" stroke-width="1.5" stroke-linecap="butt"/>
<text x="173.00" y="534.90" font-size="10.4" font-weight="bold" fill="#000" stroke="#000" stroke-width="0.3">8</text>
<line x1="195.90" y1="518.60" x2="195.90" y2="522.60" stroke="#000" stroke-width="1.5" stroke-linecap="butt"/>
<text x="190.01" y="534.90" font-size="10.4" font-weight="bold" fill="#000" stroke="#000" stroke-width="0.3">10</text>
<line x1="215.90" y1="518.60" x2="215.90" y2="522.60" stroke="#000" stroke-width="1.5" stroke-linecap="butt"/>
<text x="210.00" y="534.90" font-size="10.4" font-weight="bold" fill="#000" stroke="#000" stroke-width="0.3">12</text>
<line x1="235.90" y1="518.60" x2="235.90" y2="522.60" stroke="#000" stroke-width="1.5" stroke-linecap="butt"/>
<text x="229.83" y="534.90" font-size="10.4" font-weight="bold" fill="#000" stroke="#000" stroke-width="0.3">14</text>
<text transform="translate(99.50,551.40) scale(1.0256,1)" font-size="13.0" font-weight="bold" fill="#000" stroke="#000" stroke-width="0.3">Days post wounding</text>
<text transform="translate(16.00,495.00) rotate(-90) scale(1.0050,1) translate(-0.39,0)" font-size="13.0" font-weight="bold" stroke="#000" stroke-width="0.3"><tspan font-size="13.0" dy="0">SA bioluminescence</tspan></text>
<text transform="translate(33.30,477.30) rotate(-90) scale(1.0260,1) translate(-0.65,0)" font-size="13.0" font-weight="bold" stroke="#000" stroke-width="0.3"><tspan font-size="13.0" dy="0">(x10</tspan><tspan font-size="8.5" dy="-5">6</tspan><tspan font-size="13.0" dy="5"> photon/s)</tspan></text>
<polyline points="95.90,446.50 105.90,444.50 115.90,406.70 125.90,407.10 135.90,407.10 145.90,408.70 155.90,417.90 165.90,420.90 175.90,423.10 195.90,449.50 215.90,471.20 235.90,497.60" fill="none" stroke="#000" stroke-width="1.5" stroke-linejoin="round"/>
<line x1="95.90" y1="438.50" x2="95.90" y2="454.50" stroke="#000" stroke-width="1.5" stroke-linecap="butt"/>
<line x1="92.90" y1="438.50" x2="98.90" y2="438.50" stroke="#000" stroke-width="1.5" stroke-linecap="butt"/>
<line x1="92.90" y1="454.50" x2="98.90" y2="454.50" stroke="#000" stroke-width="1.5" stroke-linecap="butt"/>
<line x1="105.90" y1="438.50" x2="105.90" y2="450.50" stroke="#000" stroke-width="1.5" stroke-linecap="butt"/>
<line x1="102.90" y1="438.50" x2="108.90" y2="438.50" stroke="#000" stroke-width="1.5" stroke-linecap="butt"/>
<line x1="102.90" y1="450.50" x2="108.90" y2="450.50" stroke="#000" stroke-width="1.5" stroke-linecap="butt"/>
<line x1="115.90" y1="400.70" x2="115.90" y2="412.70" stroke="#000" stroke-width="1.5" stroke-linecap="butt"/>
<line x1="112.90" y1="400.70" x2="118.90" y2="400.70" stroke="#000" stroke-width="1.5" stroke-linecap="butt"/>
<line x1="112.90" y1="412.70" x2="118.90" y2="412.70" stroke="#000" stroke-width="1.5" stroke-linecap="butt"/>
<line x1="125.90" y1="402.10" x2="125.90" y2="412.10" stroke="#000" stroke-width="1.5" stroke-linecap="butt"/>
<line x1="122.90" y1="402.10" x2="128.90" y2="402.10" stroke="#000" stroke-width="1.5" stroke-linecap="butt"/>
<line x1="122.90" y1="412.10" x2="128.90" y2="412.10" stroke="#000" stroke-width="1.5" stroke-linecap="butt"/>
<line x1="135.90" y1="402.10" x2="135.90" y2="412.10" stroke="#000" stroke-width="1.5" stroke-linecap="butt"/>
<line x1="132.90" y1="402.10" x2="138.90" y2="402.10" stroke="#000" stroke-width="1.5" stroke-linecap="butt"/>
<line x1="132.90" y1="412.10" x2="138.90" y2="412.10" stroke="#000" stroke-width="1.5" stroke-linecap="butt"/>
<line x1="145.90" y1="404.70" x2="145.90" y2="412.70" stroke="#000" stroke-width="1.5" stroke-linecap="butt"/>
<line x1="142.90" y1="404.70" x2="148.90" y2="404.70" stroke="#000" stroke-width="1.5" stroke-linecap="butt"/>
<line x1="142.90" y1="412.70" x2="148.90" y2="412.70" stroke="#000" stroke-width="1.5" stroke-linecap="butt"/>
<line x1="155.90" y1="413.90" x2="155.90" y2="421.90" stroke="#000" stroke-width="1.5" stroke-linecap="butt"/>
<line x1="152.90" y1="413.90" x2="158.90" y2="413.90" stroke="#000" stroke-width="1.5" stroke-linecap="butt"/>
<line x1="152.90" y1="421.90" x2="158.90" y2="421.90" stroke="#000" stroke-width="1.5" stroke-linecap="butt"/>
<line x1="165.90" y1="416.90" x2="165.90" y2="424.90" stroke="#000" stroke-width="1.5" stroke-linecap="butt"/>
<line x1="162.90" y1="416.90" x2="168.90" y2="416.90" stroke="#000" stroke-width="1.5" stroke-linecap="butt"/>
<line x1="162.90" y1="424.90" x2="168.90" y2="424.90" stroke="#000" stroke-width="1.5" stroke-linecap="butt"/>
<line x1="175.90" y1="418.10" x2="175.90" y2="428.10" stroke="#000" stroke-width="1.5" stroke-linecap="butt"/>
<line x1="172.90" y1="418.10" x2="178.90" y2="418.10" stroke="#000" stroke-width="1.5" stroke-linecap="butt"/>
<line x1="172.90" y1="428.10" x2="178.90" y2="428.10" stroke="#000" stroke-width="1.5" stroke-linecap="butt"/>
<line x1="195.90" y1="445.00" x2="195.90" y2="454.00" stroke="#000" stroke-width="1.5" stroke-linecap="butt"/>
<line x1="192.90" y1="445.00" x2="198.90" y2="445.00" stroke="#000" stroke-width="1.5" stroke-linecap="butt"/>
<line x1="192.90" y1="454.00" x2="198.90" y2="454.00" stroke="#000" stroke-width="1.5" stroke-linecap="butt"/>
<line x1="215.90" y1="464.20" x2="215.90" y2="478.20" stroke="#000" stroke-width="1.5" stroke-linecap="butt"/>
<line x1="212.90" y1="464.20" x2="218.90" y2="464.20" stroke="#000" stroke-width="1.5" stroke-linecap="butt"/>
<line x1="212.90" y1="478.20" x2="218.90" y2="478.20" stroke="#000" stroke-width="1.5" stroke-linecap="butt"/>
<line x1="235.90" y1="493.60" x2="235.90" y2="501.60" stroke="#000" stroke-width="1.5" stroke-linecap="butt"/>
<line x1="232.90" y1="493.60" x2="238.90" y2="493.60" stroke="#000" stroke-width="1.5" stroke-linecap="butt"/>
<line x1="232.90" y1="501.60" x2="238.90" y2="501.60" stroke="#000" stroke-width="1.5" stroke-linecap="butt"/>
<polygon points="95.90,443.64 93.10,448.84 98.70,448.84" fill="#000" stroke="#000" stroke-width="1.30" stroke-linejoin="miter"/>
<polygon points="105.90,441.64 103.10,446.84 108.70,446.84" fill="#000" stroke="#000" stroke-width="1.30" stroke-linejoin="miter"/>
<polygon points="115.90,403.84 113.10,409.04 118.70,409.04" fill="#000" stroke="#000" stroke-width="1.30" stroke-linejoin="miter"/>
<polygon points="125.90,404.24 123.10,409.44 128.70,409.44" fill="#000" stroke="#000" stroke-width="1.30" stroke-linejoin="miter"/>
<polygon points="135.90,404.24 133.10,409.44 138.70,409.44" fill="#000" stroke="#000" stroke-width="1.30" stroke-linejoin="miter"/>
<polygon points="145.90,405.84 143.10,411.04 148.70,411.04" fill="#000" stroke="#000" stroke-width="1.30" stroke-linejoin="miter"/>
<polygon points="155.90,415.04 153.10,420.24 158.70,420.24" fill="#000" stroke="#000" stroke-width="1.30" stroke-linejoin="miter"/>
<polygon points="165.90,418.04 163.10,423.24 168.70,423.24" fill="#000" stroke="#000" stroke-width="1.30" stroke-linejoin="miter"/>
<polygon points="175.90,420.24 173.10,425.44 178.70,425.44" fill="#000" stroke="#000" stroke-width="1.30" stroke-linejoin="miter"/>
<polygon points="195.90,446.64 193.10,451.84 198.70,451.84" fill="#000" stroke="#000" stroke-width="1.30" stroke-linejoin="miter"/>
<polygon points="215.90,468.34 213.10,473.54 218.70,473.54" fill="#000" stroke="#000" stroke-width="1.30" stroke-linejoin="miter"/>
<polygon points="235.90,494.74 233.10,499.94 238.70,499.94" fill="#000" stroke="#000" stroke-width="1.30" stroke-linejoin="miter"/>
<polyline points="95.90,444.50 105.90,439.20 115.90,402.80 125.90,390.40 135.90,394.30 145.90,395.30 155.90,400.80 165.90,410.70 175.90,419.20 195.90,445.00 215.90,478.30 235.90,492.80" fill="none" stroke="#000" stroke-width="1.5" stroke-linejoin="round"/>
<line x1="95.90" y1="440.50" x2="95.90" y2="448.50" stroke="#000" stroke-width="1.5" stroke-linecap="butt"/>
<line x1="92.90" y1="440.50" x2="98.90" y2="440.50" stroke="#000" stroke-width="1.5" stroke-linecap="butt"/>
<line x1="92.90" y1="448.50" x2="98.90" y2="448.50" stroke="#000" stroke-width="1.5" stroke-linecap="butt"/>
<line x1="105.90" y1="435.20" x2="105.90" y2="443.20" stroke="#000" stroke-width="1.5" stroke-linecap="butt"/>
<line x1="102.90" y1="435.20" x2="108.90" y2="435.20" stroke="#000" stroke-width="1.5" stroke-linecap="butt"/>
<line x1="102.90" y1="443.20" x2="108.90" y2="443.20" stroke="#000" stroke-width="1.5" stroke-linecap="butt"/>
<line x1="115.90" y1="397.80" x2="115.90" y2="407.80" stroke="#000" stroke-width="1.5" stroke-linecap="butt"/>
<line x1="112.90" y1="397.80" x2="118.90" y2="397.80" stroke="#000" stroke-width="1.5" stroke-linecap="butt"/>
<line x1="112.90" y1="407.80" x2="118.90" y2="407.80" stroke="#000" stroke-width="1.5" stroke-linecap="butt"/>
<line x1="125.90" y1="387.40" x2="125.90" y2="393.40" stroke="#000" stroke-width="1.5" stroke-linecap="butt"/>
<line x1="122.90" y1="387.40" x2="128.90" y2="387.40" stroke="#000" stroke-width="1.5" stroke-linecap="butt"/>
<line x1="122.90" y1="393.40" x2="128.90" y2="393.40" stroke="#000" stroke-width="1.5" stroke-linecap="butt"/>
<line x1="135.90" y1="391.30" x2="135.90" y2="397.30" stroke="#000" stroke-width="1.5" stroke-linecap="butt"/>
<line x1="132.90" y1="391.30" x2="138.90" y2="391.30" stroke="#000" stroke-width="1.5" stroke-linecap="butt"/>
<line x1="132.90" y1="397.30" x2="138.90" y2="397.30" stroke="#000" stroke-width="1.5" stroke-linecap="butt"/>
<line x1="145.90" y1="392.30" x2="145.90" y2="398.30" stroke="#000" stroke-width="1.5" stroke-linecap="butt"/>
<line x1="142.90" y1="392.30" x2="148.90" y2="392.30" stroke="#000" stroke-width="1.5" stroke-linecap="butt"/>
<line x1="142.90" y1="398.30" x2="148.90" y2="398.30" stroke="#000" stroke-width="1.5" stroke-linecap="butt"/>
<line x1="155.90" y1="396.80" x2="155.90" y2="404.80" stroke="#000" stroke-width="1.5" stroke-linecap="butt"/>
<line x1="152.90" y1="396.80" x2="158.90" y2="396.80" stroke="#000" stroke-width="1.5" stroke-linecap="butt"/>
<line x1="152.90" y1="404.80" x2="158.90" y2="404.80" stroke="#000" stroke-width="1.5" stroke-linecap="butt"/>
<line x1="165.90" y1="405.70" x2="165.90" y2="415.70" stroke="#000" stroke-width="1.5" stroke-linecap="butt"/>
<line x1="162.90" y1="405.70" x2="168.90" y2="405.70" stroke="#000" stroke-width="1.5" stroke-linecap="butt"/>
<line x1="162.90" y1="415.70" x2="168.90" y2="415.70" stroke="#000" stroke-width="1.5" stroke-linecap="butt"/>
<line x1="175.90" y1="414.20" x2="175.90" y2="424.20" stroke="#000" stroke-width="1.5" stroke-linecap="butt"/>
<line x1="172.90" y1="414.20" x2="178.90" y2="414.20" stroke="#000" stroke-width="1.5" stroke-linecap="butt"/>
<line x1="172.90" y1="424.20" x2="178.90" y2="424.20" stroke="#000" stroke-width="1.5" stroke-linecap="butt"/>
<line x1="195.90" y1="439.00" x2="195.90" y2="451.00" stroke="#000" stroke-width="1.5" stroke-linecap="butt"/>
<line x1="192.90" y1="439.00" x2="198.90" y2="439.00" stroke="#000" stroke-width="1.5" stroke-linecap="butt"/>
<line x1="192.90" y1="451.00" x2="198.90" y2="451.00" stroke="#000" stroke-width="1.5" stroke-linecap="butt"/>
<line x1="215.90" y1="466.30" x2="215.90" y2="490.30" stroke="#000" stroke-width="1.5" stroke-linecap="butt"/>
<line x1="212.90" y1="466.30" x2="218.90" y2="466.30" stroke="#000" stroke-width="1.5" stroke-linecap="butt"/>
<line x1="212.90" y1="490.30" x2="218.90" y2="490.30" stroke="#000" stroke-width="1.5" stroke-linecap="butt"/>
<line x1="235.90" y1="484.80" x2="235.90" y2="500.80" stroke="#000" stroke-width="1.5" stroke-linecap="butt"/>
<line x1="232.90" y1="484.80" x2="238.90" y2="484.80" stroke="#000" stroke-width="1.5" stroke-linecap="butt"/>
<line x1="232.90" y1="500.80" x2="238.90" y2="500.80" stroke="#000" stroke-width="1.5" stroke-linecap="butt"/>
<polygon points="95.90,441.64 93.10,446.84 98.70,446.84" fill="#8a8a8a" stroke="#000" stroke-width="1.30" stroke-linejoin="miter"/>
<polygon points="105.90,436.34 103.10,441.54 108.70,441.54" fill="#8a8a8a" stroke="#000" stroke-width="1.30" stroke-linejoin="miter"/>
<polygon points="115.90,399.94 113.10,405.14 118.70,405.14" fill="#8a8a8a" stroke="#000" stroke-width="1.30" stroke-linejoin="miter"/>
<polygon points="125.90,387.54 123.10,392.74 128.70,392.74" fill="#8a8a8a" stroke="#000" stroke-width="1.30" stroke-linejoin="miter"/>
<polygon points="135.90,391.44 133.10,396.64 138.70,396.64" fill="#8a8a8a" stroke="#000" stroke-width="1.30" stroke-linejoin="miter"/>
<polygon points="145.90,392.44 143.10,397.64 148.70,397.64" fill="#8a8a8a" stroke="#000" stroke-width="1.30" stroke-linejoin="miter"/>
<polygon points="155.90,397.94 153.10,403.14 158.70,403.14" fill="#8a8a8a" stroke="#000" stroke-width="1.30" stroke-linejoin="miter"/>
<polygon points="165.90,407.84 163.10,413.04 168.70,413.04" fill="#8a8a8a" stroke="#000" stroke-width="1.30" stroke-linejoin="miter"/>
<polygon points="175.90,416.34 173.10,421.54 178.70,421.54" fill="#8a8a8a" stroke="#000" stroke-width="1.30" stroke-linejoin="miter"/>
<polygon points="195.90,442.14 193.10,447.34 198.70,447.34" fill="#8a8a8a" stroke="#000" stroke-width="1.30" stroke-linejoin="miter"/>
<polygon points="215.90,475.44 213.10,480.64 218.70,480.64" fill="#8a8a8a" stroke="#000" stroke-width="1.30" stroke-linejoin="miter"/>
<polygon points="235.90,489.94 233.10,495.14 238.70,495.14" fill="#8a8a8a" stroke="#000" stroke-width="1.30" stroke-linejoin="miter"/>
<polyline points="95.90,442.50 105.90,399.20 115.90,387.40 125.90,378.50 135.90,376.60 145.90,383.90 155.90,390.40 165.90,395.50 175.90,400.50 195.90,414.90 215.90,433.20 235.90,444.80" fill="none" stroke="#000" stroke-width="1.5" stroke-linejoin="round"/>
<line x1="95.90" y1="438.50" x2="95.90" y2="446.50" stroke="#000" stroke-width="1.5" stroke-linecap="butt"/>
<line x1="92.90" y1="438.50" x2="98.90" y2="438.50" stroke="#000" stroke-width="1.5" stroke-linecap="butt"/>
<line x1="92.90" y1="446.50" x2="98.90" y2="446.50" stroke="#000" stroke-width="1.5" stroke-linecap="butt"/>
<line x1="105.90" y1="394.20" x2="105.90" y2="404.20" stroke="#000" stroke-width="1.5" stroke-linecap="butt"/>
<line x1="102.90" y1="394.20" x2="108.90" y2="394.20" stroke="#000" stroke-width="1.5" stroke-linecap="butt"/>
<line x1="102.90" y1="404.20" x2="108.90" y2="404.20" stroke="#000" stroke-width="1.5" stroke-linecap="butt"/>
<line x1="115.90" y1="384.40" x2="115.90" y2="390.40" stroke="#000" stroke-width="1.5" stroke-linecap="butt"/>
<line x1="112.90" y1="384.40" x2="118.90" y2="384.40" stroke="#000" stroke-width="1.5" stroke-linecap="butt"/>
<line x1="112.90" y1="390.40" x2="118.90" y2="390.40" stroke="#000" stroke-width="1.5" stroke-linecap="butt"/>
<line x1="125.90" y1="376.50" x2="125.90" y2="380.50" stroke="#000" stroke-width="1.5" stroke-linecap="butt"/>
<line x1="122.90" y1="376.50" x2="128.90" y2="376.50" stroke="#000" stroke-width="1.5" stroke-linecap="butt"/>
<line x1="122.90" y1="380.50" x2="128.90" y2="380.50" stroke="#000" stroke-width="1.5" stroke-linecap="butt"/>
<line x1="135.90" y1="374.60" x2="135.90" y2="378.60" stroke="#000" stroke-width="1.5" stroke-linecap="butt"/>
<line x1="132.90" y1="374.60" x2="138.90" y2="374.60" stroke="#000" stroke-width="1.5" stroke-linecap="butt"/>
<line x1="132.90" y1="378.60" x2="138.90" y2="378.60" stroke="#000" stroke-width="1.5" stroke-linecap="butt"/>
<line x1="145.90" y1="381.90" x2="145.90" y2="385.90" stroke="#000" stroke-width="1.5" stroke-linecap="butt"/>
<line x1="142.90" y1="381.90" x2="148.90" y2="381.90" stroke="#000" stroke-width="1.5" stroke-linecap="butt"/>
<line x1="142.90" y1="385.90" x2="148.90" y2="385.90" stroke="#000" stroke-width="1.5" stroke-linecap="butt"/>
<line x1="155.90" y1="388.40" x2="155.90" y2="392.40" stroke="#000" stroke-width="1.5" stroke-linecap="butt"/>
<line x1="152.90" y1="388.40" x2="158.90" y2="388.40" stroke="#000" stroke-width="1.5" stroke-linecap="butt"/>
<line x1="152.90" y1="392.40" x2="158.90" y2="392.40" stroke="#000" stroke-width="1.5" stroke-linecap="butt"/>
<line x1="165.90" y1="393.50" x2="165.90" y2="397.50" stroke="#000" stroke-width="1.5" stroke-linecap="butt"/>
<line x1="162.90" y1="393.50" x2="168.90" y2="393.50" stroke="#000" stroke-width="1.5" stroke-linecap="butt"/>
<line x1="162.90" y1="397.50" x2="168.90" y2="397.50" stroke="#000" stroke-width="1.5" stroke-linecap="butt"/>
<line x1="175.90" y1="398.50" x2="175.90" y2="402.50" stroke="#000" stroke-width="1.5" stroke-linecap="butt"/>
<line x1="172.90" y1="398.50" x2="178.90" y2="398.50" stroke="#000" stroke-width="1.5" stroke-linecap="butt"/>
<line x1="172.90" y1="402.50" x2="178.90" y2="402.50" stroke="#000" stroke-width="1.5" stroke-linecap="butt"/>
<line x1="195.90" y1="411.90" x2="195.90" y2="417.90" stroke="#000" stroke-width="1.5" stroke-linecap="butt"/>
<line x1="192.90" y1="411.90" x2="198.90" y2="411.90" stroke="#000" stroke-width="1.5" stroke-linecap="butt"/>
<line x1="192.90" y1="417.90" x2="198.90" y2="417.90" stroke="#000" stroke-width="1.5" stroke-linecap="butt"/>
<line x1="215.90" y1="431.20" x2="215.90" y2="435.20" stroke="#000" stroke-width="1.5" stroke-linecap="butt"/>
<line x1="212.90" y1="431.20" x2="218.90" y2="431.20" stroke="#000" stroke-width="1.5" stroke-linecap="butt"/>
<line x1="212.90" y1="435.20" x2="218.90" y2="435.20" stroke="#000" stroke-width="1.5" stroke-linecap="butt"/>
<line x1="235.90" y1="439.80" x2="235.90" y2="449.80" stroke="#000" stroke-width="1.5" stroke-linecap="butt"/>
<line x1="232.90" y1="439.80" x2="238.90" y2="439.80" stroke="#000" stroke-width="1.5" stroke-linecap="butt"/>
<line x1="232.90" y1="449.80" x2="238.90" y2="449.80" stroke="#000" stroke-width="1.5" stroke-linecap="butt"/>
<polygon points="95.90,439.64 93.10,444.84 98.70,444.84" fill="#fff" stroke="#000" stroke-width="1.30" stroke-linejoin="miter"/>
<polygon points="105.90,396.34 103.10,401.54 108.70,401.54" fill="#fff" stroke="#000" stroke-width="1.30" stroke-linejoin="miter"/>
<polygon points="115.90,384.54 113.10,389.74 118.70,389.74" fill="#fff" stroke="#000" stroke-width="1.30" stroke-linejoin="miter"/>
<polygon points="125.90,375.64 123.10,380.84 128.70,380.84" fill="#fff" stroke="#000" stroke-width="1.30" stroke-linejoin="miter"/>
<polygon points="135.90,373.74 133.10,378.94 138.70,378.94" fill="#fff" stroke="#000" stroke-width="1.30" stroke-linejoin="miter"/>
<polygon points="145.90,381.04 143.10,386.24 148.70,386.24" fill="#fff" stroke="#000" stroke-width="1.30" stroke-linejoin="miter"/>
<polygon points="155.90,387.54 153.10,392.74 158.70,392.74" fill="#fff" stroke="#000" stroke-width="1.30" stroke-linejoin="miter"/>
<polygon points="165.90,392.64 163.10,397.84 168.70,397.84" fill="#fff" stroke="#000" stroke-width="1.30" stroke-linejoin="miter"/>
<polygon points="175.90,397.64 173.10,402.84 178.70,402.84" fill="#fff" stroke="#000" stroke-width="1.30" stroke-linejoin="miter"/>
<polygon points="195.90,412.04 193.10,417.24 198.70,417.24" fill="#fff" stroke="#000" stroke-width="1.30" stroke-linejoin="miter"/>
<polygon points="215.90,430.34 213.10,435.54 218.70,435.54" fill="#fff" stroke="#000" stroke-width="1.30" stroke-linejoin="miter"/>
<polygon points="235.90,441.94 233.10,447.14 238.70,447.14" fill="#fff" stroke="#000" stroke-width="1.30" stroke-linejoin="miter"/>
<text x="102.31" y="396.38" font-size="17.5" font-weight="normal">*</text>
<text x="112.20" y="385.58" font-size="17.5" font-weight="normal">*</text>
<text x="121.61" y="377.68" font-size="17.5" font-weight="normal">*</text>
<text x="131.50" y="376.28" font-size="17.5" font-weight="normal">*</text>
<text x="142.70" y="380.68" font-size="17.5" font-weight="normal">*</text>
<text x="153.50" y="386.98" font-size="17.5" font-weight="normal">*</text>
<text x="164.41" y="392.68" font-size="17.5" font-weight="normal">*</text>
<text x="174.30" y="398.28" font-size="17.5" font-weight="normal">*</text>
<text x="195.00" y="413.38" font-size="17.5" font-weight="normal">*</text>
<text x="212.70" y="433.68" font-size="17.5" font-weight="normal">*</text>
<text x="233.41" y="442.38" font-size="17.5" font-weight="normal">*</text>
<text x="127.01" y="394.38" font-size="17.5" font-weight="normal">*</text>
<text x="134.41" y="395.38" font-size="17.5" font-weight="normal">*</text>
<line x1="146.50" y1="330.40" x2="162.20" y2="330.40" stroke="#000" stroke-width="1.3" stroke-linecap="butt"/>
<polygon points="154.40,327.54 151.60,332.74 157.20,332.74" fill="#000" stroke="#000" stroke-width="1.30" stroke-linejoin="miter"/>
<text transform="translate(170.76,333.90) scale(0.9368,1)" font-size="10.4" font-weight="normal" fill="#000">SA-Isotype control</text>
<line x1="146.50" y1="346.30" x2="162.20" y2="346.30" stroke="#000" stroke-width="1.3" stroke-linecap="butt"/>
<polygon points="154.40,343.44 151.60,348.64 157.20,348.64" fill="#8a8a8a" stroke="#000" stroke-width="1.30" stroke-linejoin="miter"/>
<text transform="translate(170.76,349.80) scale(0.9477,1)" font-size="10.4" font-weight="normal" fill="#000">SA-post Gr-1</text>
<line x1="146.50" y1="362.20" x2="162.20" y2="362.20" stroke="#000" stroke-width="1.3" stroke-linecap="butt"/>
<polygon points="154.40,359.34 151.60,364.54 157.20,364.54" fill="#fff" stroke="#000" stroke-width="1.30" stroke-linejoin="miter"/>
<text transform="translate(170.76,365.70) scale(0.9402,1)" font-size="10.4" font-weight="normal" fill="#000">SA-pre Gr-1</text>
<line x1="332.30" y1="340.80" x2="332.30" y2="519.00" stroke="#000" stroke-width="1.8" stroke-linecap="butt"/>
<line x1="328.30" y1="517.90" x2="473.20" y2="517.90" stroke="#000" stroke-width="2.0" stroke-linecap="butt"/>
<line x1="328.30" y1="517.90" x2="332.30" y2="517.90" stroke="#000" stroke-width="1.5" stroke-linecap="butt"/>
<text x="321.04" y="521.50" font-size="10.4" font-weight="bold" fill="#000" stroke="#000" stroke-width="0.3">0</text>
<line x1="328.30" y1="492.76" x2="332.30" y2="492.76" stroke="#000" stroke-width="1.5" stroke-linecap="butt"/>
<text x="315.27" y="496.36" font-size="10.4" font-weight="bold" fill="#000" stroke="#000" stroke-width="0.3">20</text>
<line x1="328.30" y1="467.62" x2="332.30" y2="467.62" stroke="#000" stroke-width="1.5" stroke-linecap="butt"/>
<text x="315.27" y="471.22" font-size="10.4" font-weight="bold" fill="#000" stroke="#000" stroke-width="0.3">40</text>
<line x1="328.30" y1="442.48" x2="332.30" y2="442.48" stroke="#000" stroke-width="1.5" stroke-linecap="butt"/>
<text x="315.27" y="446.08" font-size="10.4" font-weight="bold" fill="#000" stroke="#000" stroke-width="0.3">60</text>
<line x1="328.30" y1="417.34" x2="332.30" y2="417.34" stroke="#000" stroke-width="1.5" stroke-linecap="butt"/>
<text x="315.27" y="420.94" font-size="10.4" font-weight="bold" fill="#000" stroke="#000" stroke-width="0.3">80</text>
<line x1="328.30" y1="392.20" x2="332.30" y2="392.20" stroke="#000" stroke-width="1.5" stroke-linecap="butt"/>
<text x="309.47" y="395.80" font-size="10.4" font-weight="bold" fill="#000" stroke="#000" stroke-width="0.3">100</text>
<line x1="328.30" y1="367.06" x2="332.30" y2="367.06" stroke="#000" stroke-width="1.5" stroke-linecap="butt"/>
<text x="309.47" y="370.66" font-size="10.4" font-weight="bold" fill="#000" stroke="#000" stroke-width="0.3">120</text>
<line x1="328.30" y1="341.92" x2="332.30" y2="341.92" stroke="#000" stroke-width="1.5" stroke-linecap="butt"/>
<text x="309.47" y="345.52" font-size="10.4" font-weight="bold" fill="#000" stroke="#000" stroke-width="0.3">140</text>
<line x1="332.30" y1="517.90" x2="332.30" y2="522.00" stroke="#000" stroke-width="1.5" stroke-linecap="butt"/>
<text x="329.41" y="533.60" font-size="10.4" font-weight="bold" fill="#000" stroke="#000" stroke-width="0.3">0</text>
<line x1="352.40" y1="517.90" x2="352.40" y2="522.00" stroke="#000" stroke-width="1.5" stroke-linecap="butt"/>
<text x="349.53" y="533.60" font-size="10.4" font-weight="bold" fill="#000" stroke="#000" stroke-width="0.3">2</text>
<line x1="372.50" y1="517.90" x2="372.50" y2="522.00" stroke="#000" stroke-width="1.5" stroke-linecap="butt"/>
<text x="369.56" y="533.60" font-size="10.4" font-weight="bold" fill="#000" stroke="#000" stroke-width="0.3">4</text>
<line x1="392.60" y1="517.90" x2="392.60" y2="522.00" stroke="#000" stroke-width="1.5" stroke-linecap="butt"/>
<text x="389.70" y="533.60" font-size="10.4" font-weight="bold" fill="#000" stroke="#000" stroke-width="0.3">6</text>
<line x1="412.70" y1="517.90" x2="412.70" y2="522.00" stroke="#000" stroke-width="1.5" stroke-linecap="butt"/>
<text x="409.80" y="533.60" font-size="10.4" font-weight="bold" fill="#000" stroke="#000" stroke-width="0.3">8</text>
<line x1="432.80" y1="517.90" x2="432.80" y2="522.00" stroke="#000" stroke-width="1.5" stroke-linecap="butt"/>
<text x="426.91" y="533.60" font-size="10.4" font-weight="bold" fill="#000" stroke="#000" stroke-width="0.3">10</text>
<line x1="452.90" y1="517.90" x2="452.90" y2="522.00" stroke="#000" stroke-width="1.5" stroke-linecap="butt"/>
<text x="447.00" y="533.60" font-size="10.4" font-weight="bold" fill="#000" stroke="#000" stroke-width="0.3">12</text>
<line x1="473.00" y1="517.90" x2="473.00" y2="522.00" stroke="#000" stroke-width="1.5" stroke-linecap="butt"/>
<text x="466.93" y="533.60" font-size="10.4" font-weight="bold" fill="#000" stroke="#000" stroke-width="0.3">14</text>
<text transform="translate(336.01,551.20) scale(1.0344,1)" font-size="12.8" font-weight="bold" fill="#000" stroke="#000" stroke-width="0.3">Days post wounding</text>
<text transform="translate(284.40,467.00) rotate(-90) scale(1.0088,1) translate(-0.00,0)" font-size="12.8" font-weight="bold" stroke="#000" stroke-width="0.3"><tspan font-size="12.8" dy="0">Wound size</tspan></text>
<text transform="translate(299.80,484.40) rotate(-90) scale(0.9999,1) translate(-0.64,0)" font-size="12.8" font-weight="bold" stroke="#000" stroke-width="0.3"><tspan font-size="12.8" dy="0">(% of initial value)</tspan></text>
<polyline points="332.30,392.20 342.35,380.89 352.40,369.70 362.45,368.82 372.50,369.70 382.55,375.98 392.60,383.15 402.65,393.83 412.70,405.15 432.80,423.00 452.90,441.60 473.00,460.20" fill="none" stroke="#000" stroke-width="1.5" stroke-linejoin="round"/>
<line x1="342.35" y1="375.89" x2="342.35" y2="385.89" stroke="#000" stroke-width="1.5" stroke-linecap="butt"/>
<line x1="339.35" y1="375.89" x2="345.35" y2="375.89" stroke="#000" stroke-width="1.5" stroke-linecap="butt"/>
<line x1="339.35" y1="385.89" x2="345.35" y2="385.89" stroke="#000" stroke-width="1.5" stroke-linecap="butt"/>
<line x1="352.40" y1="360.70" x2="352.40" y2="378.70" stroke="#000" stroke-width="1.5" stroke-linecap="butt"/>
<line x1="349.40" y1="360.70" x2="355.40" y2="360.70" stroke="#000" stroke-width="1.5" stroke-linecap="butt"/>
<line x1="349.40" y1="378.70" x2="355.40" y2="378.70" stroke="#000" stroke-width="1.5" stroke-linecap="butt"/>
<line x1="362.45" y1="359.82" x2="362.45" y2="377.82" stroke="#000" stroke-width="1.5" stroke-linecap="butt"/>
<line x1="359.45" y1="359.82" x2="365.45" y2="359.82" stroke="#000" stroke-width="1.5" stroke-linecap="butt"/>
<line x1="359.45" y1="377.82" x2="365.45" y2="377.82" stroke="#000" stroke-width="1.5" stroke-linecap="butt"/>
<line x1="372.50" y1="360.70" x2="372.50" y2="378.70" stroke="#000" stroke-width="1.5" stroke-linecap="butt"/>
<line x1="369.50" y1="360.70" x2="375.50" y2="360.70" stroke="#000" stroke-width="1.5" stroke-linecap="butt"/>
<line x1="369.50" y1="378.70" x2="375.50" y2="378.70" stroke="#000" stroke-width="1.5" stroke-linecap="butt"/>
<line x1="382.55" y1="368.98" x2="382.55" y2="382.98" stroke="#000" stroke-width="1.5" stroke-linecap="butt"/>
<line x1="379.55" y1="368.98" x2="385.55" y2="368.98" stroke="#000" stroke-width="1.5" stroke-linecap="butt"/>
<line x1="379.55" y1="382.98" x2="385.55" y2="382.98" stroke="#000" stroke-width="1.5" stroke-linecap="butt"/>
<line x1="392.60" y1="376.15" x2="392.60" y2="390.15" stroke="#000" stroke-width="1.5" stroke-linecap="butt"/>
<line x1="389.60" y1="376.15" x2="395.60" y2="376.15" stroke="#000" stroke-width="1.5" stroke-linecap="butt"/>
<line x1="389.60" y1="390.15" x2="395.60" y2="390.15" stroke="#000" stroke-width="1.5" stroke-linecap="butt"/>
<line x1="402.65" y1="386.83" x2="402.65" y2="400.83" stroke="#000" stroke-width="1.5" stroke-linecap="butt"/>
<line x1="399.65" y1="386.83" x2="405.65" y2="386.83" stroke="#000" stroke-width="1.5" stroke-linecap="butt"/>
<line x1="399.65" y1="400.83" x2="405.65" y2="400.83" stroke="#000" stroke-width="1.5" stroke-linecap="butt"/>
<line x1="412.70" y1="395.65" x2="412.70" y2="414.65" stroke="#000" stroke-width="1.5" stroke-linecap="butt"/>
<line x1="409.70" y1="395.65" x2="415.70" y2="395.65" stroke="#000" stroke-width="1.5" stroke-linecap="butt"/>
<line x1="409.70" y1="414.65" x2="415.70" y2="414.65" stroke="#000" stroke-width="1.5" stroke-linecap="butt"/>
<line x1="432.80" y1="418.00" x2="432.80" y2="428.00" stroke="#000" stroke-width="1.5" stroke-linecap="butt"/>
<line x1="429.80" y1="418.00" x2="435.80" y2="418.00" stroke="#000" stroke-width="1.5" stroke-linecap="butt"/>
<line x1="429.80" y1="428.00" x2="435.80" y2="428.00" stroke="#000" stroke-width="1.5" stroke-linecap="butt"/>
<line x1="452.90" y1="436.60" x2="452.90" y2="446.60" stroke="#000" stroke-width="1.5" stroke-linecap="butt"/>
<line x1="449.90" y1="436.60" x2="455.90" y2="436.60" stroke="#000" stroke-width="1.5" stroke-linecap="butt"/>
<line x1="449.90" y1="446.60" x2="455.90" y2="446.60" stroke="#000" stroke-width="1.5" stroke-linecap="butt"/>
<line x1="473.00" y1="452.70" x2="473.00" y2="467.70" stroke="#000" stroke-width="1.5" stroke-linecap="butt"/>
<line x1="470.00" y1="452.70" x2="476.00" y2="452.70" stroke="#000" stroke-width="1.5" stroke-linecap="butt"/>
<line x1="470.00" y1="467.70" x2="476.00" y2="467.70" stroke="#000" stroke-width="1.5" stroke-linecap="butt"/>
<polygon points="332.30,389.34 329.50,394.54 335.10,394.54" fill="#000" stroke="#000" stroke-width="1.30" stroke-linejoin="miter"/>
<polygon points="342.35,378.03 339.55,383.23 345.15,383.23" fill="#000" stroke="#000" stroke-width="1.30" stroke-linejoin="miter"/>
<polygon points="352.40,366.84 349.60,372.04 355.20,372.04" fill="#000" stroke="#000" stroke-width="1.30" stroke-linejoin="miter"/>
<polygon points="362.45,365.96 359.65,371.16 365.25,371.16" fill="#000" stroke="#000" stroke-width="1.30" stroke-linejoin="miter"/>
<polygon points="372.50,366.84 369.70,372.04 375.30,372.04" fill="#000" stroke="#000" stroke-width="1.30" stroke-linejoin="miter"/>
<polygon points="382.55,373.12 379.75,378.32 385.35,378.32" fill="#000" stroke="#000" stroke-width="1.30" stroke-linejoin="miter"/>
<polygon points="392.60,380.29 389.80,385.49 395.40,385.49" fill="#000" stroke="#000" stroke-width="1.30" stroke-linejoin="miter"/>
<polygon points="402.65,390.97 399.85,396.17 405.45,396.17" fill="#000" stroke="#000" stroke-width="1.30" stroke-linejoin="miter"/>
<polygon points="412.70,402.29 409.90,407.49 415.50,407.49" fill="#000" stroke="#000" stroke-width="1.30" stroke-linejoin="miter"/>
<polygon points="432.80,420.14 430.00,425.34 435.60,425.34" fill="#000" stroke="#000" stroke-width="1.30" stroke-linejoin="miter"/>
<polygon points="452.90,438.74 450.10,443.94 455.70,443.94" fill="#000" stroke="#000" stroke-width="1.30" stroke-linejoin="miter"/>
<polygon points="473.00,457.34 470.20,462.54 475.80,462.54" fill="#000" stroke="#000" stroke-width="1.30" stroke-linejoin="miter"/>
<polyline points="332.30,392.20 342.35,384.91 352.40,389.31 362.45,392.95 372.50,398.23 382.55,399.24 392.60,407.66 402.65,413.57 412.70,420.73 432.80,439.34 452.90,457.94 473.00,492.76" fill="none" stroke="#000" stroke-width="1.5" stroke-linejoin="round"/>
<line x1="342.35" y1="380.91" x2="342.35" y2="388.91" stroke="#000" stroke-width="1.5" stroke-linecap="butt"/>
<line x1="339.35" y1="380.91" x2="345.35" y2="380.91" stroke="#000" stroke-width="1.5" stroke-linecap="butt"/>
<line x1="339.35" y1="388.91" x2="345.35" y2="388.91" stroke="#000" stroke-width="1.5" stroke-linecap="butt"/>
<line x1="352.40" y1="386.31" x2="352.40" y2="392.31" stroke="#000" stroke-width="1.5" stroke-linecap="butt"/>
<line x1="349.40" y1="386.31" x2="355.40" y2="386.31" stroke="#000" stroke-width="1.5" stroke-linecap="butt"/>
<line x1="349.40" y1="392.31" x2="355.40" y2="392.31" stroke="#000" stroke-width="1.5" stroke-linecap="butt"/>
<line x1="362.45" y1="388.95" x2="362.45" y2="396.95" stroke="#000" stroke-width="1.5" stroke-linecap="butt"/>
<line x1="359.45" y1="388.95" x2="365.45" y2="388.95" stroke="#000" stroke-width="1.5" stroke-linecap="butt"/>
<line x1="359.45" y1="396.95" x2="365.45" y2="396.95" stroke="#000" stroke-width="1.5" stroke-linecap="butt"/>
<line x1="372.50" y1="393.23" x2="372.50" y2="403.23" stroke="#000" stroke-width="1.5" stroke-linecap="butt"/>
<line x1="369.50" y1="393.23" x2="375.50" y2="393.23" stroke="#000" stroke-width="1.5" stroke-linecap="butt"/>
<line x1="369.50" y1="403.23" x2="375.50" y2="403.23" stroke="#000" stroke-width="1.5" stroke-linecap="butt"/>
<line x1="382.55" y1="394.24" x2="382.55" y2="404.24" stroke="#000" stroke-width="1.5" stroke-linecap="butt"/>
<line x1="379.55" y1="394.24" x2="385.55" y2="394.24" stroke="#000" stroke-width="1.5" stroke-linecap="butt"/>
<line x1="379.55" y1="404.24" x2="385.55" y2="404.24" stroke="#000" stroke-width="1.5" stroke-linecap="butt"/>
<line x1="392.60" y1="402.66" x2="392.60" y2="412.66" stroke="#000" stroke-width="1.5" stroke-linecap="butt"/>
<line x1="389.60" y1="402.66" x2="395.60" y2="402.66" stroke="#000" stroke-width="1.5" stroke-linecap="butt"/>
<line x1="389.60" y1="412.66" x2="395.60" y2="412.66" stroke="#000" stroke-width="1.5" stroke-linecap="butt"/>
<line x1="402.65" y1="408.57" x2="402.65" y2="418.57" stroke="#000" stroke-width="1.5" stroke-linecap="butt"/>
<line x1="399.65" y1="408.57" x2="405.65" y2="408.57" stroke="#000" stroke-width="1.5" stroke-linecap="butt"/>
<line x1="399.65" y1="418.57" x2="405.65" y2="418.57" stroke="#000" stroke-width="1.5" stroke-linecap="butt"/>
<line x1="412.70" y1="414.73" x2="412.70" y2="426.73" stroke="#000" stroke-width="1.5" stroke-linecap="butt"/>
<line x1="409.70" y1="414.73" x2="415.70" y2="414.73" stroke="#000" stroke-width="1.5" stroke-linecap="butt"/>
<line x1="409.70" y1="426.73" x2="415.70" y2="426.73" stroke="#000" stroke-width="1.5" stroke-linecap="butt"/>
<line x1="432.80" y1="431.84" x2="432.80" y2="446.84" stroke="#000" stroke-width="1.5" stroke-linecap="butt"/>
<line x1="429.80" y1="431.84" x2="435.80" y2="431.84" stroke="#000" stroke-width="1.5" stroke-linecap="butt"/>
<line x1="429.80" y1="446.84" x2="435.80" y2="446.84" stroke="#000" stroke-width="1.5" stroke-linecap="butt"/>
<line x1="452.90" y1="447.94" x2="452.90" y2="467.94" stroke="#000" stroke-width="1.5" stroke-linecap="butt"/>
<line x1="449.90" y1="447.94" x2="455.90" y2="447.94" stroke="#000" stroke-width="1.5" stroke-linecap="butt"/>
<line x1="449.90" y1="467.94" x2="455.90" y2="467.94" stroke="#000" stroke-width="1.5" stroke-linecap="butt"/>
<line x1="473.00" y1="481.76" x2="473.00" y2="503.76" stroke="#000" stroke-width="1.5" stroke-linecap="butt"/>
<line x1="470.00" y1="481.76" x2="476.00" y2="481.76" stroke="#000" stroke-width="1.5" stroke-linecap="butt"/>
<line x1="470.00" y1="503.76" x2="476.00" y2="503.76" stroke="#000" stroke-width="1.5" stroke-linecap="butt"/>
<polygon points="332.30,389.34 329.50,394.54 335.10,394.54" fill="#8a8a8a" stroke="#000" stroke-width="1.30" stroke-linejoin="miter"/>
<polygon points="342.35,382.05 339.55,387.25 345.15,387.25" fill="#8a8a8a" stroke="#000" stroke-width="1.30" stroke-linejoin="miter"/>
<polygon points="352.40,386.45 349.60,391.65 355.20,391.65" fill="#8a8a8a" stroke="#000" stroke-width="1.30" stroke-linejoin="miter"/>
<polygon points="362.45,390.09 359.65,395.29 365.25,395.29" fill="#8a8a8a" stroke="#000" stroke-width="1.30" stroke-linejoin="miter"/>
<polygon points="372.50,395.37 369.70,400.57 375.30,400.57" fill="#8a8a8a" stroke="#000" stroke-width="1.30" stroke-linejoin="miter"/>
<polygon points="382.55,396.38 379.75,401.58 385.35,401.58" fill="#8a8a8a" stroke="#000" stroke-width="1.30" stroke-linejoin="miter"/>
<polygon points="392.60,404.80 389.80,410.00 395.40,410.00" fill="#8a8a8a" stroke="#000" stroke-width="1.30" stroke-linejoin="miter"/>
<polygon points="402.65,410.71 399.85,415.91 405.45,415.91" fill="#8a8a8a" stroke="#000" stroke-width="1.30" stroke-linejoin="miter"/>
<polygon points="412.70,417.87 409.90,423.07 415.50,423.07" fill="#8a8a8a" stroke="#000" stroke-width="1.30" stroke-linejoin="miter"/>
<polygon points="432.80,436.48 430.00,441.68 435.60,441.68" fill="#8a8a8a" stroke="#000" stroke-width="1.30" stroke-linejoin="miter"/>
<polygon points="452.90,455.08 450.10,460.28 455.70,460.28" fill="#8a8a8a" stroke="#000" stroke-width="1.30" stroke-linejoin="miter"/>
<polygon points="473.00,489.90 470.20,495.10 475.80,495.10" fill="#8a8a8a" stroke="#000" stroke-width="1.30" stroke-linejoin="miter"/>
<polyline points="332.30,392.20 342.35,372.09 352.40,357.26 362.45,356.38 372.50,363.41 382.55,367.94 392.60,376.49 402.65,380.01 412.70,387.05 432.80,399.87 452.90,408.42 473.00,418.47" fill="none" stroke="#000" stroke-width="1.5" stroke-linejoin="round"/>
<line x1="342.35" y1="367.09" x2="342.35" y2="377.09" stroke="#000" stroke-width="1.5" stroke-linecap="butt"/>
<line x1="339.35" y1="367.09" x2="345.35" y2="367.09" stroke="#000" stroke-width="1.5" stroke-linecap="butt"/>
<line x1="339.35" y1="377.09" x2="345.35" y2="377.09" stroke="#000" stroke-width="1.5" stroke-linecap="butt"/>
<line x1="352.40" y1="353.26" x2="352.40" y2="361.26" stroke="#000" stroke-width="1.5" stroke-linecap="butt"/>
<line x1="349.40" y1="353.26" x2="355.40" y2="353.26" stroke="#000" stroke-width="1.5" stroke-linecap="butt"/>
<line x1="349.40" y1="361.26" x2="355.40" y2="361.26" stroke="#000" stroke-width="1.5" stroke-linecap="butt"/>
<line x1="362.45" y1="351.38" x2="362.45" y2="361.38" stroke="#000" stroke-width="1.5" stroke-linecap="butt"/>
<line x1="359.45" y1="351.38" x2="365.45" y2="351.38" stroke="#000" stroke-width="1.5" stroke-linecap="butt"/>
<line x1="359.45" y1="361.38" x2="365.45" y2="361.38" stroke="#000" stroke-width="1.5" stroke-linecap="butt"/>
<line x1="372.50" y1="358.41" x2="372.50" y2="368.41" stroke="#000" stroke-width="1.5" stroke-linecap="butt"/>
<line x1="369.50" y1="358.41" x2="375.50" y2="358.41" stroke="#000" stroke-width="1.5" stroke-linecap="butt"/>
<line x1="369.50" y1="368.41" x2="375.50" y2="368.41" stroke="#000" stroke-width="1.5" stroke-linecap="butt"/>
<line x1="382.55" y1="363.94" x2="382.55" y2="371.94" stroke="#000" stroke-width="1.5" stroke-linecap="butt"/>
<line x1="379.55" y1="363.94" x2="385.55" y2="363.94" stroke="#000" stroke-width="1.5" stroke-linecap="butt"/>
<line x1="379.55" y1="371.94" x2="385.55" y2="371.94" stroke="#000" stroke-width="1.5" stroke-linecap="butt"/>
<line x1="392.60" y1="371.49" x2="392.60" y2="381.49" stroke="#000" stroke-width="1.5" stroke-linecap="butt"/>
<line x1="389.60" y1="371.49" x2="395.60" y2="371.49" stroke="#000" stroke-width="1.5" stroke-linecap="butt"/>
<line x1="389.60" y1="381.49" x2="395.60" y2="381.49" stroke="#000" stroke-width="1.5" stroke-linecap="butt"/>
<line x1="402.65" y1="375.01" x2="402.65" y2="385.01" stroke="#000" stroke-width="1.5" stroke-linecap="butt"/>
<line x1="399.65" y1="375.01" x2="405.65" y2="375.01" stroke="#000" stroke-width="1.5" stroke-linecap="butt"/>
<line x1="399.65" y1="385.01" x2="405.65" y2="385.01" stroke="#000" stroke-width="1.5" stroke-linecap="butt"/>
<line x1="412.70" y1="382.05" x2="412.70" y2="392.05" stroke="#000" stroke-width="1.5" stroke-linecap="butt"/>
<line x1="409.70" y1="382.05" x2="415.70" y2="382.05" stroke="#000" stroke-width="1.5" stroke-linecap="butt"/>
<line x1="409.70" y1="392.05" x2="415.70" y2="392.05" stroke="#000" stroke-width="1.5" stroke-linecap="butt"/>
<line x1="432.80" y1="394.87" x2="432.80" y2="404.87" stroke="#000" stroke-width="1.5" stroke-linecap="butt"/>
<line x1="429.80" y1="394.87" x2="435.80" y2="394.87" stroke="#000" stroke-width="1.5" stroke-linecap="butt"/>
<line x1="429.80" y1="404.87" x2="435.80" y2="404.87" stroke="#000" stroke-width="1.5" stroke-linecap="butt"/>
<line x1="452.90" y1="401.02" x2="452.90" y2="415.82" stroke="#000" stroke-width="1.5" stroke-linecap="butt"/>
<line x1="449.90" y1="401.02" x2="455.90" y2="401.02" stroke="#000" stroke-width="1.5" stroke-linecap="butt"/>
<line x1="449.90" y1="415.82" x2="455.90" y2="415.82" stroke="#000" stroke-width="1.5" stroke-linecap="butt"/>
<line x1="473.00" y1="407.97" x2="473.00" y2="428.97" stroke="#000" stroke-width="1.5" stroke-linecap="butt"/>
<line x1="470.00" y1="407.97" x2="476.00" y2="407.97" stroke="#000" stroke-width="1.5" stroke-linecap="butt"/>
<line x1="470.00" y1="428.97" x2="476.00" y2="428.97" stroke="#000" stroke-width="1.5" stroke-linecap="butt"/>
<polygon points="332.30,389.34 329.50,394.54 335.10,394.54" fill="#fff" stroke="#000" stroke-width="1.30" stroke-linejoin="miter"/>
<polygon points="342.35,369.23 339.55,374.43 345.15,374.43" fill="#fff" stroke="#000" stroke-width="1.30" stroke-linejoin="miter"/>
<polygon points="352.40,354.40 349.60,359.60 355.20,359.60" fill="#fff" stroke="#000" stroke-width="1.30" stroke-linejoin="miter"/>
<polygon points="362.45,353.52 359.65,358.72 365.25,358.72" fill="#fff" stroke="#000" stroke-width="1.30" stroke-linejoin="miter"/>
<polygon points="372.50,360.55 369.70,365.75 375.30,365.75" fill="#fff" stroke="#000" stroke-width="1.30" stroke-linejoin="miter"/>
<polygon points="382.55,365.08 379.75,370.28 385.35,370.28" fill="#fff" stroke="#000" stroke-width="1.30" stroke-linejoin="miter"/>
<polygon points="392.60,373.63 389.80,378.83 395.40,378.83" fill="#fff" stroke="#000" stroke-width="1.30" stroke-linejoin="miter"/>
<polygon points="402.65,377.15 399.85,382.35 405.45,382.35" fill="#fff" stroke="#000" stroke-width="1.30" stroke-linejoin="miter"/>
<polygon points="412.70,384.19 409.90,389.39 415.50,389.39" fill="#fff" stroke="#000" stroke-width="1.30" stroke-linejoin="miter"/>
<polygon points="432.80,397.01 430.00,402.21 435.60,402.21" fill="#fff" stroke="#000" stroke-width="1.30" stroke-linejoin="miter"/>
<polygon points="452.90,405.56 450.10,410.76 455.70,410.76" fill="#fff" stroke="#000" stroke-width="1.30" stroke-linejoin="miter"/>
<polygon points="473.00,415.61 470.20,420.81 475.80,420.81" fill="#fff" stroke="#000" stroke-width="1.30" stroke-linejoin="miter"/>
<text x="348.41" y="406.38" font-size="17.5" font-weight="normal">*</text>
<text x="358.41" y="410.48" font-size="17.5" font-weight="normal">*</text>
<text x="368.11" y="418.38" font-size="17.5" font-weight="normal">*</text>
<text x="378.81" y="420.18" font-size="17.5" font-weight="normal">*</text>
<text x="389.61" y="430.58" font-size="17.5" font-weight="normal">*</text>
<text x="429.61" y="397.78" font-size="17.5" font-weight="normal">*</text>
<text x="448.91" y="403.38" font-size="17.5" font-weight="normal">*</text>
<text x="468.50" y="411.58" font-size="17.5" font-weight="normal">*</text>
<text x="476.00" y="498.98" font-size="17.5" font-weight="normal">*</text>
<line x1="403.40" y1="329.60" x2="419.00" y2="329.60" stroke="#000" stroke-width="1.3" stroke-linecap="butt"/>
<polygon points="411.10,326.74 408.30,331.94 413.90,331.94" fill="#000" stroke="#000" stroke-width="1.30" stroke-linejoin="miter"/>
<text transform="translate(427.06,333.10) scale(0.9463,1)" font-size="10.4" font-weight="normal" fill="#000">SA-Isotype control</text>
<line x1="403.40" y1="345.30" x2="419.00" y2="345.30" stroke="#000" stroke-width="1.3" stroke-linecap="butt"/>
<polygon points="411.10,342.44 408.30,347.64 413.90,347.64" fill="#8a8a8a" stroke="#000" stroke-width="1.30" stroke-linejoin="miter"/>
<text transform="translate(427.05,348.80) scale(0.9578,1)" font-size="10.4" font-weight="normal" fill="#000">SA-post Gr-1</text>
<line x1="403.40" y1="361.00" x2="419.00" y2="361.00" stroke="#000" stroke-width="1.3" stroke-linecap="butt"/>
<polygon points="411.10,358.14 408.30,363.34 413.90,363.34" fill="#fff" stroke="#000" stroke-width="1.30" stroke-linejoin="miter"/>
<text transform="translate(427.06,364.50) scale(0.9493,1)" font-size="10.4" font-weight="normal" fill="#000">SA-pre Gr-1</text>
</svg>
</body></html>
